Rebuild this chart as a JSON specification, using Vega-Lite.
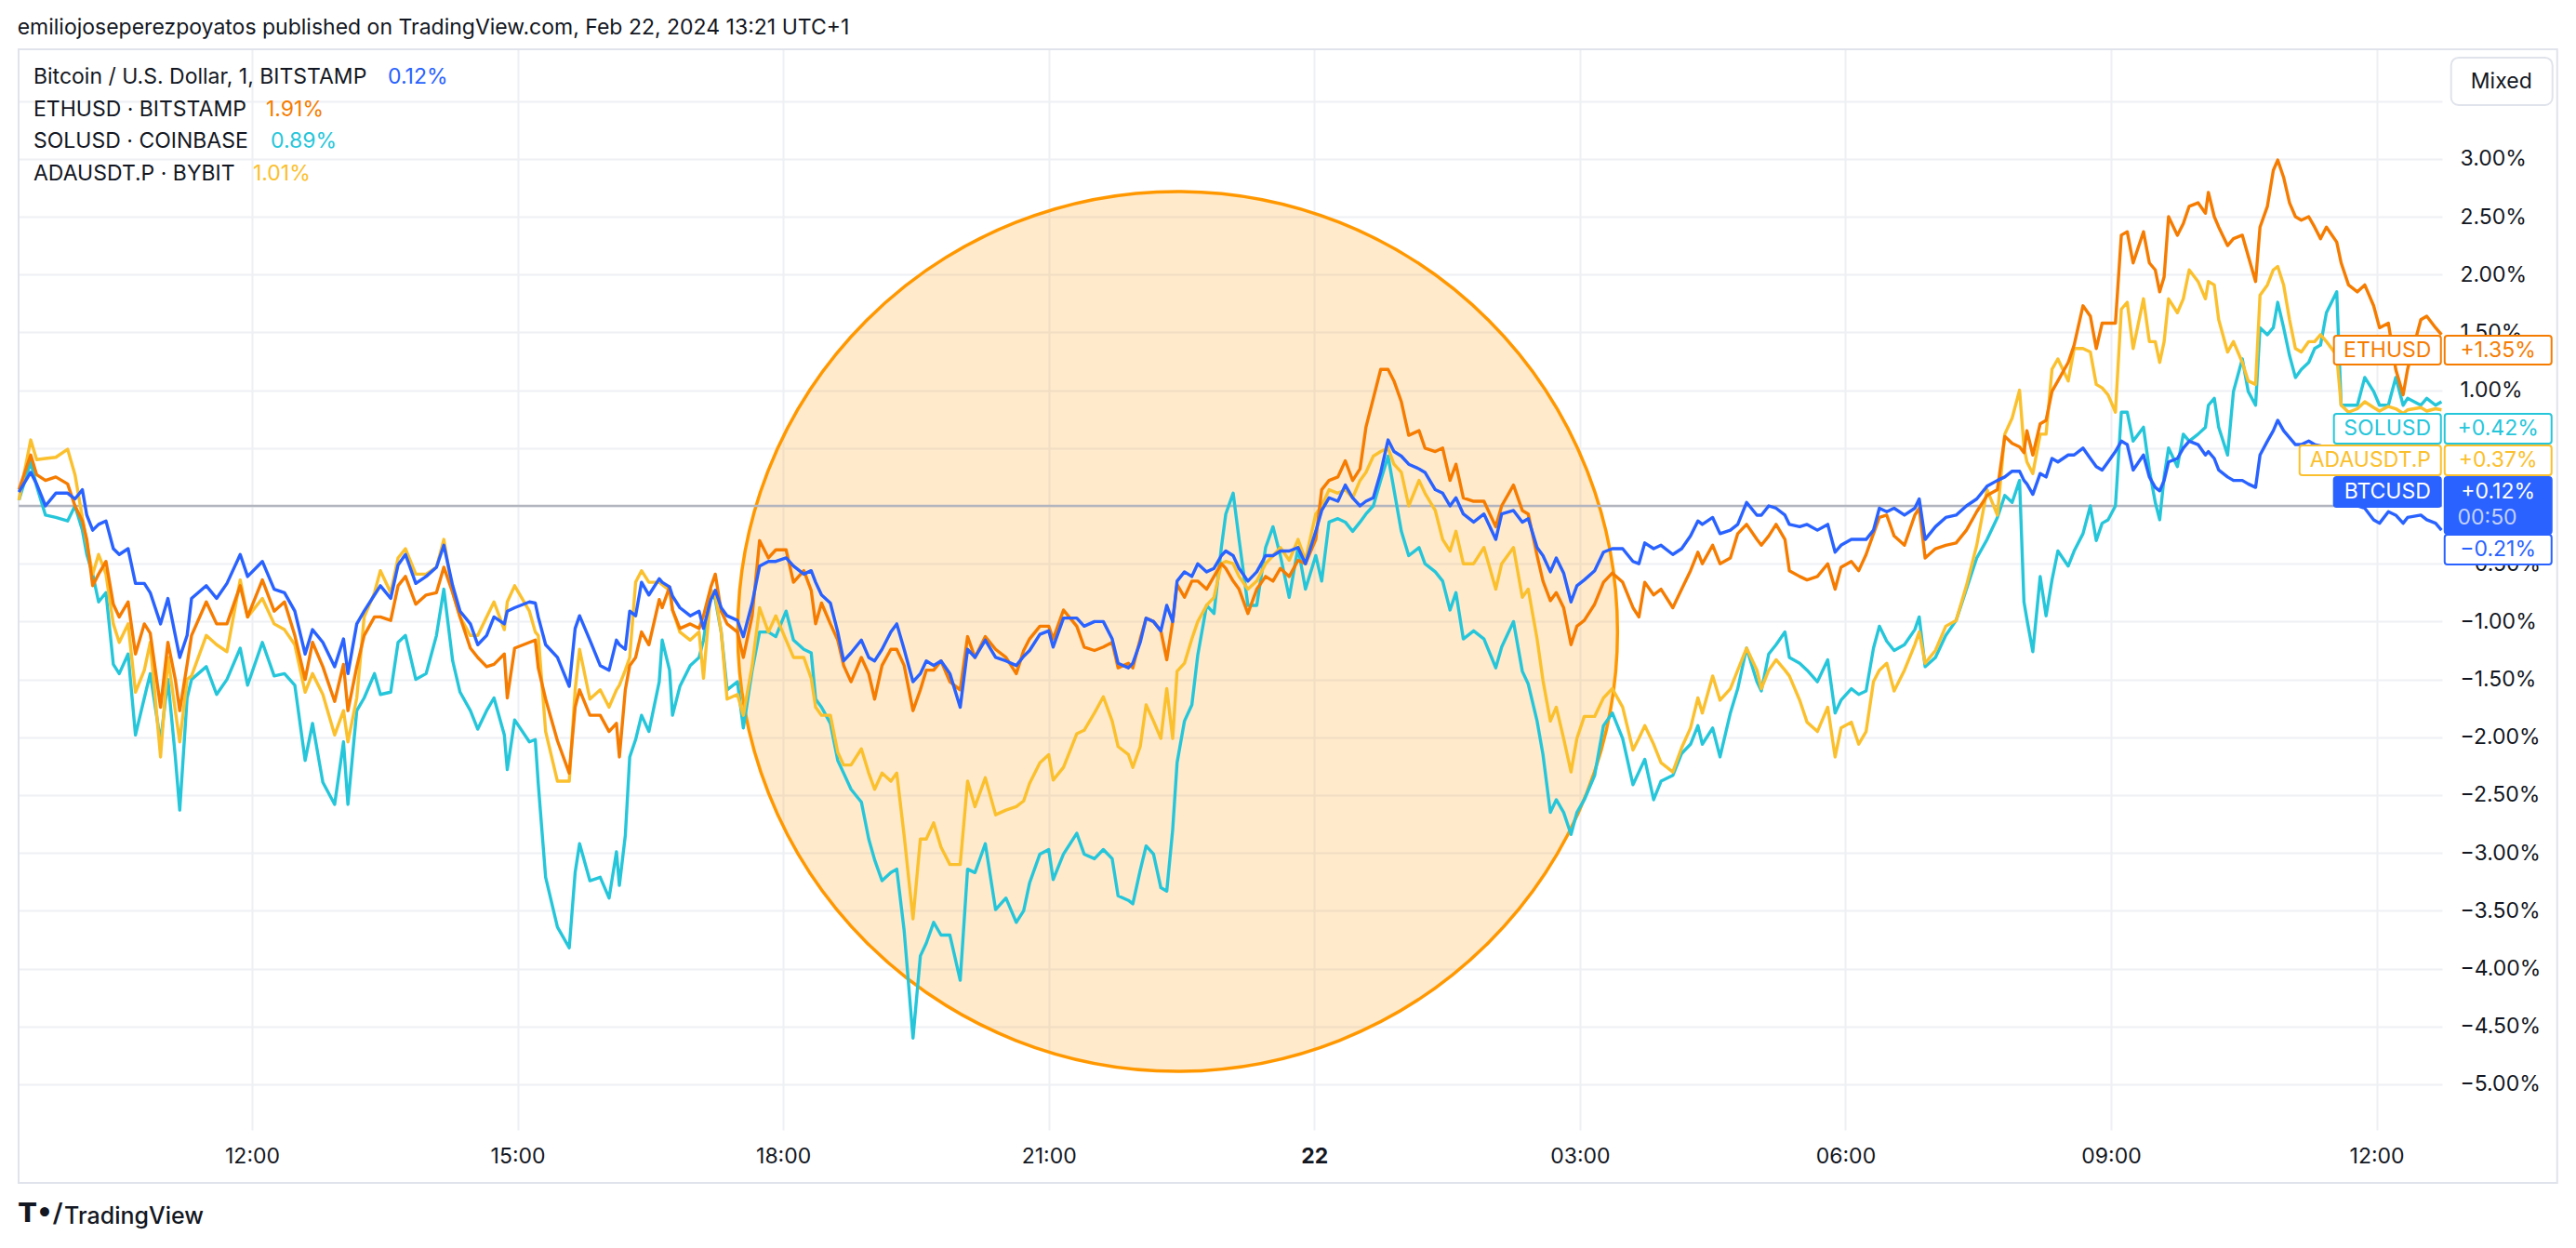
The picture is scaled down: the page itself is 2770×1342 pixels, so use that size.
{
"$schema":"https://vega.github.io/schema/vega-lite/v6.json",
"width":2606,"height":1162,
"autosize":{"type":"none"},
"padding":{"left":20,"top":53,"right":144,"bottom":127},
"background":"white",
"title":{"text":"emiliojoseperezpoyatos published on TradingView.com, Feb 22, 2024 13:21 UTC+1","anchor":"start","font":"Inter","fontSize":23,"fontWeight":"normal","color":"#131722","offset":10},
"config":{"view":{"stroke":null},"font":"Inter","axis":{"domain":false,"ticks":false,"gridColor":"#EEF0F4","gridWidth":2,"labelFont":"Inter","labelFontSize":23,"labelColor":"#131722"}},
"datasets":{
"btc":[{"t":"2024-02-21T09:22Z","v":0.12},{"t":"2024-02-21T09:30Z","v":0.29},{"t":"2024-02-21T09:34Z","v":0.19},{"t":"2024-02-21T09:40Z","v":0.0},{"t":"2024-02-21T09:47Z","v":0.11},{"t":"2024-02-21T09:55Z","v":0.11},{"t":"2024-02-21T10:00Z","v":0.06},{"t":"2024-02-21T10:05Z","v":0.14},{"t":"2024-02-21T10:08Z","v":-0.08},{"t":"2024-02-21T10:12Z","v":-0.21},{"t":"2024-02-21T10:16Z","v":-0.16},{"t":"2024-02-21T10:21Z","v":-0.13},{"t":"2024-02-21T10:26Z","v":-0.37},{"t":"2024-02-21T10:30Z","v":-0.42},{"t":"2024-02-21T10:36Z","v":-0.37},{"t":"2024-02-21T10:41Z","v":-0.67},{"t":"2024-02-21T10:47Z","v":-0.67},{"t":"2024-02-21T10:51Z","v":-0.75},{"t":"2024-02-21T10:58Z","v":-1.02},{"t":"2024-02-21T11:03Z","v":-0.8},{"t":"2024-02-21T11:08Z","v":-1.12},{"t":"2024-02-21T11:11Z","v":-1.31},{"t":"2024-02-21T11:16Z","v":-1.12},{"t":"2024-02-21T11:19Z","v":-0.8},{"t":"2024-02-21T11:29Z","v":-0.69},{"t":"2024-02-21T11:36Z","v":-0.8},{"t":"2024-02-21T11:43Z","v":-0.67},{"t":"2024-02-21T11:52Z","v":-0.42},{"t":"2024-02-21T11:57Z","v":-0.61},{"t":"2024-02-21T12:07Z","v":-0.48},{"t":"2024-02-21T12:15Z","v":-0.72},{"t":"2024-02-21T12:22Z","v":-0.75},{"t":"2024-02-21T12:29Z","v":-0.91},{"t":"2024-02-21T12:36Z","v":-1.28},{"t":"2024-02-21T12:41Z","v":-1.07},{"t":"2024-02-21T12:48Z","v":-1.18},{"t":"2024-02-21T12:56Z","v":-1.39},{"t":"2024-02-21T13:02Z","v":-1.15},{"t":"2024-02-21T13:05Z","v":-1.45},{"t":"2024-02-21T13:11Z","v":-1.02},{"t":"2024-02-21T13:16Z","v":-0.91},{"t":"2024-02-21T13:23Z","v":-0.77},{"t":"2024-02-21T13:27Z","v":-0.69},{"t":"2024-02-21T13:34Z","v":-0.8},{"t":"2024-02-21T13:39Z","v":-0.51},{"t":"2024-02-21T13:44Z","v":-0.42},{"t":"2024-02-21T13:51Z","v":-0.67},{"t":"2024-02-21T13:58Z","v":-0.61},{"t":"2024-02-21T14:05Z","v":-0.53},{"t":"2024-02-21T14:10Z","v":-0.34},{"t":"2024-02-21T14:16Z","v":-0.69},{"t":"2024-02-21T14:21Z","v":-0.91},{"t":"2024-02-21T14:28Z","v":-1.02},{"t":"2024-02-21T14:33Z","v":-1.2},{"t":"2024-02-21T14:39Z","v":-1.12},{"t":"2024-02-21T14:44Z","v":-0.96},{"t":"2024-02-21T14:51Z","v":-1.02},{"t":"2024-02-21T14:53Z","v":-0.91},{"t":"2024-02-21T14:58Z","v":-0.88},{"t":"2024-02-21T15:08Z","v":-0.83},{"t":"2024-02-21T15:12Z","v":-0.84},{"t":"2024-02-21T15:14Z","v":-0.96},{"t":"2024-02-21T15:19Z","v":-1.2},{"t":"2024-02-21T15:27Z","v":-1.31},{"t":"2024-02-21T15:35Z","v":-1.56},{"t":"2024-02-21T15:39Z","v":-1.06},{"t":"2024-02-21T15:42Z","v":-0.95},{"t":"2024-02-21T15:49Z","v":-1.16},{"t":"2024-02-21T15:56Z","v":-1.38},{"t":"2024-02-21T16:02Z","v":-1.42},{"t":"2024-02-21T16:07Z","v":-1.16},{"t":"2024-02-21T16:09Z","v":-1.2},{"t":"2024-02-21T16:13Z","v":-1.24},{"t":"2024-02-21T16:16Z","v":-0.91},{"t":"2024-02-21T16:20Z","v":-0.95},{"t":"2024-02-21T16:24Z","v":-0.66},{"t":"2024-02-21T16:29Z","v":-0.77},{"t":"2024-02-21T16:36Z","v":-0.63},{"t":"2024-02-21T16:38Z","v":-0.66},{"t":"2024-02-21T16:43Z","v":-0.7},{"t":"2024-02-21T16:45Z","v":-0.78},{"t":"2024-02-21T16:50Z","v":-0.88},{"t":"2024-02-21T16:57Z","v":-0.95},{"t":"2024-02-21T17:03Z","v":-0.91},{"t":"2024-02-21T17:06Z","v":-1.06},{"t":"2024-02-21T17:11Z","v":-0.81},{"t":"2024-02-21T17:14Z","v":-0.73},{"t":"2024-02-21T17:18Z","v":-0.88},{"t":"2024-02-21T17:22Z","v":-0.95},{"t":"2024-02-21T17:29Z","v":-0.99},{"t":"2024-02-21T17:33Z","v":-1.13},{"t":"2024-02-21T17:39Z","v":-0.84},{"t":"2024-02-21T17:44Z","v":-0.52},{"t":"2024-02-21T17:50Z","v":-0.48},{"t":"2024-02-21T17:55Z","v":-0.48},{"t":"2024-02-21T18:02Z","v":-0.45},{"t":"2024-02-21T18:07Z","v":-0.52},{"t":"2024-02-21T18:14Z","v":-0.59},{"t":"2024-02-21T18:19Z","v":-0.56},{"t":"2024-02-21T18:22Z","v":-0.66},{"t":"2024-02-21T18:26Z","v":-0.77},{"t":"2024-02-21T18:32Z","v":-0.84},{"t":"2024-02-21T18:37Z","v":-1.09},{"t":"2024-02-21T18:41Z","v":-1.34},{"t":"2024-02-21T18:46Z","v":-1.27},{"t":"2024-02-21T18:53Z","v":-1.16},{"t":"2024-02-21T18:58Z","v":-1.31},{"t":"2024-02-21T19:02Z","v":-1.34},{"t":"2024-02-21T19:07Z","v":-1.24},{"t":"2024-02-21T19:13Z","v":-1.09},{"t":"2024-02-21T19:17Z","v":-1.02},{"t":"2024-02-21T19:22Z","v":-1.24},{"t":"2024-02-21T19:28Z","v":-1.52},{"t":"2024-02-21T19:33Z","v":-1.45},{"t":"2024-02-21T19:37Z","v":-1.34},{"t":"2024-02-21T19:42Z","v":-1.38},{"t":"2024-02-21T19:47Z","v":-1.34},{"t":"2024-02-21T19:53Z","v":-1.45},{"t":"2024-02-21T20:00Z","v":-1.74},{"t":"2024-02-21T20:05Z","v":-1.24},{"t":"2024-02-21T20:10Z","v":-1.31},{"t":"2024-02-21T20:17Z","v":-1.16},{"t":"2024-02-21T20:24Z","v":-1.31},{"t":"2024-02-21T20:31Z","v":-1.34},{"t":"2024-02-21T20:38Z","v":-1.38},{"t":"2024-02-21T20:43Z","v":-1.3},{"t":"2024-02-21T20:47Z","v":-1.25},{"t":"2024-02-21T20:54Z","v":-1.11},{"t":"2024-02-21T21:00Z","v":-1.08},{"t":"2024-02-21T21:03Z","v":-1.22},{"t":"2024-02-21T21:10Z","v":-0.97},{"t":"2024-02-21T21:19Z","v":-0.97},{"t":"2024-02-21T21:24Z","v":-1.04},{"t":"2024-02-21T21:31Z","v":-1.0},{"t":"2024-02-21T21:37Z","v":-1.0},{"t":"2024-02-21T21:43Z","v":-1.15},{"t":"2024-02-21T21:47Z","v":-1.36},{"t":"2024-02-21T21:54Z","v":-1.4},{"t":"2024-02-21T21:57Z","v":-1.36},{"t":"2024-02-21T22:02Z","v":-1.18},{"t":"2024-02-21T22:06Z","v":-0.97},{"t":"2024-02-21T22:11Z","v":-1.0},{"t":"2024-02-21T22:16Z","v":-1.08},{"t":"2024-02-21T22:20Z","v":-0.86},{"t":"2024-02-21T22:24Z","v":-1.0},{"t":"2024-02-21T22:27Z","v":-0.65},{"t":"2024-02-21T22:32Z","v":-0.57},{"t":"2024-02-21T22:37Z","v":-0.61},{"t":"2024-02-21T22:41Z","v":-0.5},{"t":"2024-02-21T22:47Z","v":-0.57},{"t":"2024-02-21T22:52Z","v":-0.54},{"t":"2024-02-21T22:57Z","v":-0.43},{"t":"2024-02-21T23:00Z","v":-0.39},{"t":"2024-02-21T23:05Z","v":-0.43},{"t":"2024-02-21T23:09Z","v":-0.54},{"t":"2024-02-21T23:15Z","v":-0.65},{"t":"2024-02-21T23:21Z","v":-0.57},{"t":"2024-02-21T23:27Z","v":-0.43},{"t":"2024-02-21T23:32Z","v":-0.43},{"t":"2024-02-21T23:37Z","v":-0.39},{"t":"2024-02-21T23:43Z","v":-0.39},{"t":"2024-02-21T23:49Z","v":-0.36},{"t":"2024-02-21T23:54Z","v":-0.5},{"t":"2024-02-22T00:01Z","v":-0.22},{"t":"2024-02-22T00:05Z","v":-0.04},{"t":"2024-02-22T00:10Z","v":0.07},{"t":"2024-02-22T00:16Z","v":0.04},{"t":"2024-02-22T00:21Z","v":0.18},{"t":"2024-02-22T00:26Z","v":0.07},{"t":"2024-02-22T00:31Z","v":0.0},{"t":"2024-02-22T00:35Z","v":0.04},{"t":"2024-02-22T00:40Z","v":0.07},{"t":"2024-02-22T00:45Z","v":0.29},{"t":"2024-02-22T00:50Z","v":0.57},{"t":"2024-02-22T00:54Z","v":0.47},{"t":"2024-02-22T00:59Z","v":0.43},{"t":"2024-02-22T01:04Z","v":0.36},{"t":"2024-02-22T01:11Z","v":0.32},{"t":"2024-02-22T01:15Z","v":0.29},{"t":"2024-02-22T01:22Z","v":0.14},{"t":"2024-02-22T01:27Z","v":0.11},{"t":"2024-02-22T01:32Z","v":0.0},{"t":"2024-02-22T01:36Z","v":0.07},{"t":"2024-02-22T01:41Z","v":-0.07},{"t":"2024-02-22T01:48Z","v":-0.14},{"t":"2024-02-22T01:55Z","v":-0.07},{"t":"2024-02-22T02:03Z","v":-0.29},{"t":"2024-02-22T02:07Z","v":-0.07},{"t":"2024-02-22T02:15Z","v":-0.04},{"t":"2024-02-22T02:21Z","v":-0.14},{"t":"2024-02-22T02:25Z","v":-0.11},{"t":"2024-02-22T02:31Z","v":-0.36},{"t":"2024-02-22T02:35Z","v":-0.43},{"t":"2024-02-22T02:40Z","v":-0.57},{"t":"2024-02-22T02:44Z","v":-0.45},{"t":"2024-02-22T02:49Z","v":-0.58},{"t":"2024-02-22T02:54Z","v":-0.83},{"t":"2024-02-22T02:58Z","v":-0.69},{"t":"2024-02-22T03:03Z","v":-0.64},{"t":"2024-02-22T03:10Z","v":-0.56},{"t":"2024-02-22T03:16Z","v":-0.4},{"t":"2024-02-22T03:22Z","v":-0.37},{"t":"2024-02-22T03:29Z","v":-0.37},{"t":"2024-02-22T03:36Z","v":-0.48},{"t":"2024-02-22T03:40Z","v":-0.5},{"t":"2024-02-22T03:44Z","v":-0.32},{"t":"2024-02-22T03:50Z","v":-0.37},{"t":"2024-02-22T03:55Z","v":-0.34},{"t":"2024-02-22T04:03Z","v":-0.42},{"t":"2024-02-22T04:09Z","v":-0.37},{"t":"2024-02-22T04:15Z","v":-0.26},{"t":"2024-02-22T04:20Z","v":-0.13},{"t":"2024-02-22T04:23Z","v":-0.16},{"t":"2024-02-22T04:30Z","v":-0.1},{"t":"2024-02-22T04:35Z","v":-0.24},{"t":"2024-02-22T04:42Z","v":-0.21},{"t":"2024-02-22T04:47Z","v":-0.16},{"t":"2024-02-22T04:53Z","v":0.03},{"t":"2024-02-22T05:00Z","v":-0.08},{"t":"2024-02-22T05:03Z","v":-0.08},{"t":"2024-02-22T05:08Z","v":0.0},{"t":"2024-02-22T05:13Z","v":-0.02},{"t":"2024-02-22T05:19Z","v":-0.08},{"t":"2024-02-22T05:22Z","v":-0.16},{"t":"2024-02-22T05:29Z","v":-0.18},{"t":"2024-02-22T05:34Z","v":-0.16},{"t":"2024-02-22T05:41Z","v":-0.21},{"t":"2024-02-22T05:48Z","v":-0.16},{"t":"2024-02-22T05:53Z","v":-0.4},{"t":"2024-02-22T05:57Z","v":-0.34},{"t":"2024-02-22T06:04Z","v":-0.29},{"t":"2024-02-22T06:09Z","v":-0.29},{"t":"2024-02-22T06:14Z","v":-0.29},{"t":"2024-02-22T06:19Z","v":-0.21},{"t":"2024-02-22T06:23Z","v":-0.02},{"t":"2024-02-22T06:28Z","v":-0.05},{"t":"2024-02-22T06:33Z","v":-0.02},{"t":"2024-02-22T06:40Z","v":-0.08},{"t":"2024-02-22T06:47Z","v":-0.02},{"t":"2024-02-22T06:50Z","v":0.06},{"t":"2024-02-22T06:54Z","v":-0.29},{"t":"2024-02-22T07:01Z","v":-0.18},{"t":"2024-02-22T07:08Z","v":-0.1},{"t":"2024-02-22T07:15Z","v":-0.08},{"t":"2024-02-22T07:22Z","v":0.0},{"t":"2024-02-22T07:29Z","v":0.06},{"t":"2024-02-22T07:36Z","v":0.17},{"t":"2024-02-22T07:43Z","v":0.22},{"t":"2024-02-22T07:48Z","v":0.25},{"t":"2024-02-22T07:53Z","v":0.3},{"t":"2024-02-22T07:58Z","v":0.3},{"t":"2024-02-22T08:01Z","v":0.22},{"t":"2024-02-22T08:03Z","v":0.19},{"t":"2024-02-22T08:07Z","v":0.1},{"t":"2024-02-22T08:12Z","v":0.28},{"t":"2024-02-22T08:16Z","v":0.25},{"t":"2024-02-22T08:20Z","v":0.41},{"t":"2024-02-22T08:24Z","v":0.38},{"t":"2024-02-22T08:31Z","v":0.44},{"t":"2024-02-22T08:35Z","v":0.44},{"t":"2024-02-22T08:41Z","v":0.5},{"t":"2024-02-22T08:46Z","v":0.41},{"t":"2024-02-22T08:50Z","v":0.34},{"t":"2024-02-22T08:54Z","v":0.31},{"t":"2024-02-22T08:58Z","v":0.38},{"t":"2024-02-22T09:03Z","v":0.47},{"t":"2024-02-22T09:07Z","v":0.56},{"t":"2024-02-22T09:11Z","v":0.53},{"t":"2024-02-22T09:15Z","v":0.31},{"t":"2024-02-22T09:22Z","v":0.44},{"t":"2024-02-22T09:26Z","v":0.25},{"t":"2024-02-22T09:30Z","v":0.16},{"t":"2024-02-22T09:33Z","v":0.13},{"t":"2024-02-22T09:36Z","v":0.22},{"t":"2024-02-22T09:39Z","v":0.38},{"t":"2024-02-22T09:45Z","v":0.41},{"t":"2024-02-22T09:49Z","v":0.5},{"t":"2024-02-22T09:53Z","v":0.56},{"t":"2024-02-22T09:59Z","v":0.53},{"t":"2024-02-22T10:04Z","v":0.44},{"t":"2024-02-22T10:06Z","v":0.47},{"t":"2024-02-22T10:10Z","v":0.41},{"t":"2024-02-22T10:13Z","v":0.31},{"t":"2024-02-22T10:19Z","v":0.25},{"t":"2024-02-22T10:23Z","v":0.22},{"t":"2024-02-22T10:29Z","v":0.22},{"t":"2024-02-22T10:33Z","v":0.19},{"t":"2024-02-22T10:38Z","v":0.16},{"t":"2024-02-22T10:41Z","v":0.44},{"t":"2024-02-22T10:46Z","v":0.56},{"t":"2024-02-22T10:50Z","v":0.65},{"t":"2024-02-22T10:53Z","v":0.74},{"t":"2024-02-22T10:57Z","v":0.65},{"t":"2024-02-22T11:01Z","v":0.59},{"t":"2024-02-22T11:05Z","v":0.53},{"t":"2024-02-22T11:09Z","v":0.53},{"t":"2024-02-22T11:14Z","v":0.56},{"t":"2024-02-22T11:18Z","v":0.53},{"t":"2024-02-22T11:22Z","v":0.52},{"t":"2024-02-22T11:26Z","v":0.5},{"t":"2024-02-22T11:33Z","v":0.45},{"t":"2024-02-22T11:36Z","v":0.35},{"t":"2024-02-22T11:41Z","v":0.15},{"t":"2024-02-22T11:47Z","v":0.0},{"t":"2024-02-22T11:52Z","v":-0.02},{"t":"2024-02-22T11:58Z","v":-0.12},{"t":"2024-02-22T12:02Z","v":-0.15},{"t":"2024-02-22T12:08Z","v":-0.05},{"t":"2024-02-22T12:13Z","v":-0.08},{"t":"2024-02-22T12:18Z","v":-0.15},{"t":"2024-02-22T12:21Z","v":-0.1},{"t":"2024-02-22T12:30Z","v":-0.08},{"t":"2024-02-22T12:34Z","v":-0.12},{"t":"2024-02-22T12:40Z","v":-0.15},{"t":"2024-02-22T12:44Z","v":-0.21}],
"eth":[{"t":"2024-02-21T09:22Z","v":0.14},{"t":"2024-02-21T09:30Z","v":0.44},{"t":"2024-02-21T09:34Z","v":0.27},{"t":"2024-02-21T09:40Z","v":0.22},{"t":"2024-02-21T09:47Z","v":0.25},{"t":"2024-02-21T09:55Z","v":0.19},{"t":"2024-02-21T10:00Z","v":0.0},{"t":"2024-02-21T10:05Z","v":-0.13},{"t":"2024-02-21T10:08Z","v":-0.29},{"t":"2024-02-21T10:12Z","v":-0.69},{"t":"2024-02-21T10:16Z","v":-0.59},{"t":"2024-02-21T10:21Z","v":-0.48},{"t":"2024-02-21T10:26Z","v":-0.85},{"t":"2024-02-21T10:30Z","v":-0.96},{"t":"2024-02-21T10:36Z","v":-0.83},{"t":"2024-02-21T10:41Z","v":-1.28},{"t":"2024-02-21T10:47Z","v":-1.02},{"t":"2024-02-21T10:51Z","v":-1.1},{"t":"2024-02-21T10:58Z","v":-1.74},{"t":"2024-02-21T11:03Z","v":-1.18},{"t":"2024-02-21T11:08Z","v":-1.5},{"t":"2024-02-21T11:11Z","v":-1.77},{"t":"2024-02-21T11:16Z","v":-1.37},{"t":"2024-02-21T11:19Z","v":-1.12},{"t":"2024-02-21T11:29Z","v":-0.83},{"t":"2024-02-21T11:36Z","v":-1.02},{"t":"2024-02-21T11:43Z","v":-1.02},{"t":"2024-02-21T11:52Z","v":-0.69},{"t":"2024-02-21T11:57Z","v":-0.96},{"t":"2024-02-21T12:07Z","v":-0.64},{"t":"2024-02-21T12:15Z","v":-0.91},{"t":"2024-02-21T12:22Z","v":-0.83},{"t":"2024-02-21T12:29Z","v":-1.12},{"t":"2024-02-21T12:36Z","v":-1.5},{"t":"2024-02-21T12:41Z","v":-1.18},{"t":"2024-02-21T12:48Z","v":-1.39},{"t":"2024-02-21T12:56Z","v":-1.69},{"t":"2024-02-21T13:02Z","v":-1.37},{"t":"2024-02-21T13:05Z","v":-1.77},{"t":"2024-02-21T13:11Z","v":-1.39},{"t":"2024-02-21T13:16Z","v":-1.12},{"t":"2024-02-21T13:23Z","v":-0.96},{"t":"2024-02-21T13:27Z","v":-0.96},{"t":"2024-02-21T13:34Z","v":-0.99},{"t":"2024-02-21T13:39Z","v":-0.69},{"t":"2024-02-21T13:44Z","v":-0.61},{"t":"2024-02-21T13:51Z","v":-0.85},{"t":"2024-02-21T13:58Z","v":-0.77},{"t":"2024-02-21T14:05Z","v":-0.75},{"t":"2024-02-21T14:10Z","v":-0.53},{"t":"2024-02-21T14:16Z","v":-0.75},{"t":"2024-02-21T14:21Z","v":-0.96},{"t":"2024-02-21T14:28Z","v":-1.23},{"t":"2024-02-21T14:33Z","v":-1.31},{"t":"2024-02-21T14:39Z","v":-1.39},{"t":"2024-02-21T14:44Z","v":-1.37},{"t":"2024-02-21T14:51Z","v":-1.28},{"t":"2024-02-21T14:53Z","v":-1.66},{"t":"2024-02-21T14:58Z","v":-1.23},{"t":"2024-02-21T15:08Z","v":-1.18},{"t":"2024-02-21T15:12Z","v":-1.16},{"t":"2024-02-21T15:14Z","v":-1.4},{"t":"2024-02-21T15:19Z","v":-1.67},{"t":"2024-02-21T15:27Z","v":-2.03},{"t":"2024-02-21T15:35Z","v":-2.31},{"t":"2024-02-21T15:39Z","v":-1.74},{"t":"2024-02-21T15:42Z","v":-1.59},{"t":"2024-02-21T15:49Z","v":-1.81},{"t":"2024-02-21T15:56Z","v":-1.81},{"t":"2024-02-21T16:02Z","v":-1.95},{"t":"2024-02-21T16:07Z","v":-1.88},{"t":"2024-02-21T16:09Z","v":-2.17},{"t":"2024-02-21T16:13Z","v":-1.59},{"t":"2024-02-21T16:16Z","v":-1.38},{"t":"2024-02-21T16:20Z","v":-1.31},{"t":"2024-02-21T16:24Z","v":-1.09},{"t":"2024-02-21T16:29Z","v":-1.2},{"t":"2024-02-21T16:36Z","v":-0.81},{"t":"2024-02-21T16:38Z","v":-0.88},{"t":"2024-02-21T16:43Z","v":-0.7},{"t":"2024-02-21T16:45Z","v":-0.9},{"t":"2024-02-21T16:50Z","v":-1.06},{"t":"2024-02-21T16:57Z","v":-1.02},{"t":"2024-02-21T17:03Z","v":-1.06},{"t":"2024-02-21T17:06Z","v":-0.95},{"t":"2024-02-21T17:11Z","v":-0.7},{"t":"2024-02-21T17:14Z","v":-0.59},{"t":"2024-02-21T17:18Z","v":-0.91},{"t":"2024-02-21T17:22Z","v":-1.02},{"t":"2024-02-21T17:29Z","v":-1.09},{"t":"2024-02-21T17:33Z","v":-1.31},{"t":"2024-02-21T17:39Z","v":-0.95},{"t":"2024-02-21T17:44Z","v":-0.3},{"t":"2024-02-21T17:50Z","v":-0.45},{"t":"2024-02-21T17:55Z","v":-0.38},{"t":"2024-02-21T18:02Z","v":-0.38},{"t":"2024-02-21T18:07Z","v":-0.66},{"t":"2024-02-21T18:14Z","v":-0.56},{"t":"2024-02-21T18:19Z","v":-0.73},{"t":"2024-02-21T18:22Z","v":-1.02},{"t":"2024-02-21T18:26Z","v":-0.84},{"t":"2024-02-21T18:32Z","v":-1.02},{"t":"2024-02-21T18:37Z","v":-1.16},{"t":"2024-02-21T18:41Z","v":-1.38},{"t":"2024-02-21T18:46Z","v":-1.52},{"t":"2024-02-21T18:53Z","v":-1.31},{"t":"2024-02-21T18:58Z","v":-1.45},{"t":"2024-02-21T19:02Z","v":-1.67},{"t":"2024-02-21T19:07Z","v":-1.38},{"t":"2024-02-21T19:13Z","v":-1.24},{"t":"2024-02-21T19:17Z","v":-1.24},{"t":"2024-02-21T19:22Z","v":-1.38},{"t":"2024-02-21T19:28Z","v":-1.77},{"t":"2024-02-21T19:33Z","v":-1.59},{"t":"2024-02-21T19:37Z","v":-1.42},{"t":"2024-02-21T19:42Z","v":-1.42},{"t":"2024-02-21T19:47Z","v":-1.34},{"t":"2024-02-21T19:53Z","v":-1.52},{"t":"2024-02-21T20:00Z","v":-1.59},{"t":"2024-02-21T20:05Z","v":-1.13},{"t":"2024-02-21T20:10Z","v":-1.31},{"t":"2024-02-21T20:17Z","v":-1.13},{"t":"2024-02-21T20:24Z","v":-1.24},{"t":"2024-02-21T20:31Z","v":-1.31},{"t":"2024-02-21T20:38Z","v":-1.45},{"t":"2024-02-21T20:43Z","v":-1.25},{"t":"2024-02-21T20:47Z","v":-1.15},{"t":"2024-02-21T20:54Z","v":-1.04},{"t":"2024-02-21T21:00Z","v":-1.04},{"t":"2024-02-21T21:03Z","v":-1.15},{"t":"2024-02-21T21:10Z","v":-0.9},{"t":"2024-02-21T21:19Z","v":-1.04},{"t":"2024-02-21T21:24Z","v":-1.22},{"t":"2024-02-21T21:31Z","v":-1.25},{"t":"2024-02-21T21:37Z","v":-1.22},{"t":"2024-02-21T21:43Z","v":-1.18},{"t":"2024-02-21T21:47Z","v":-1.4},{"t":"2024-02-21T21:54Z","v":-1.36},{"t":"2024-02-21T21:57Z","v":-1.4},{"t":"2024-02-21T22:02Z","v":-1.15},{"t":"2024-02-21T22:06Z","v":-0.97},{"t":"2024-02-21T22:11Z","v":-1.0},{"t":"2024-02-21T22:16Z","v":-1.08},{"t":"2024-02-21T22:20Z","v":-1.33},{"t":"2024-02-21T22:24Z","v":-1.0},{"t":"2024-02-21T22:27Z","v":-0.68},{"t":"2024-02-21T22:32Z","v":-0.79},{"t":"2024-02-21T22:37Z","v":-0.65},{"t":"2024-02-21T22:41Z","v":-0.65},{"t":"2024-02-21T22:47Z","v":-0.72},{"t":"2024-02-21T22:52Z","v":-0.61},{"t":"2024-02-21T22:57Z","v":-0.5},{"t":"2024-02-21T23:00Z","v":-0.54},{"t":"2024-02-21T23:05Z","v":-0.65},{"t":"2024-02-21T23:09Z","v":-0.72},{"t":"2024-02-21T23:15Z","v":-0.93},{"t":"2024-02-21T23:21Z","v":-0.72},{"t":"2024-02-21T23:27Z","v":-0.61},{"t":"2024-02-21T23:32Z","v":-0.65},{"t":"2024-02-21T23:37Z","v":-0.54},{"t":"2024-02-21T23:43Z","v":-0.61},{"t":"2024-02-21T23:49Z","v":-0.47},{"t":"2024-02-21T23:54Z","v":-0.5},{"t":"2024-02-22T00:01Z","v":-0.29},{"t":"2024-02-22T00:05Z","v":0.14},{"t":"2024-02-22T00:10Z","v":0.22},{"t":"2024-02-22T00:16Z","v":0.25},{"t":"2024-02-22T00:21Z","v":0.39},{"t":"2024-02-22T00:26Z","v":0.22},{"t":"2024-02-22T00:31Z","v":0.32},{"t":"2024-02-22T00:35Z","v":0.68},{"t":"2024-02-22T00:40Z","v":0.93},{"t":"2024-02-22T00:45Z","v":1.18},{"t":"2024-02-22T00:50Z","v":1.18},{"t":"2024-02-22T00:54Z","v":1.08},{"t":"2024-02-22T00:59Z","v":0.9},{"t":"2024-02-22T01:04Z","v":0.61},{"t":"2024-02-22T01:11Z","v":0.65},{"t":"2024-02-22T01:15Z","v":0.5},{"t":"2024-02-22T01:22Z","v":0.47},{"t":"2024-02-22T01:27Z","v":0.5},{"t":"2024-02-22T01:32Z","v":0.22},{"t":"2024-02-22T01:36Z","v":0.36},{"t":"2024-02-22T01:41Z","v":0.07},{"t":"2024-02-22T01:48Z","v":0.04},{"t":"2024-02-22T01:55Z","v":0.04},{"t":"2024-02-22T02:03Z","v":-0.18},{"t":"2024-02-22T02:07Z","v":0.0},{"t":"2024-02-22T02:15Z","v":0.18},{"t":"2024-02-22T02:21Z","v":-0.04},{"t":"2024-02-22T02:25Z","v":-0.07},{"t":"2024-02-22T02:31Z","v":-0.43},{"t":"2024-02-22T02:35Z","v":-0.65},{"t":"2024-02-22T02:40Z","v":-0.82},{"t":"2024-02-22T02:44Z","v":-0.75},{"t":"2024-02-22T02:49Z","v":-0.88},{"t":"2024-02-22T02:54Z","v":-1.2},{"t":"2024-02-22T02:58Z","v":-1.04},{"t":"2024-02-22T03:03Z","v":-0.99},{"t":"2024-02-22T03:10Z","v":-0.85},{"t":"2024-02-22T03:16Z","v":-0.66},{"t":"2024-02-22T03:22Z","v":-0.58},{"t":"2024-02-22T03:29Z","v":-0.66},{"t":"2024-02-22T03:36Z","v":-0.88},{"t":"2024-02-22T03:40Z","v":-0.96},{"t":"2024-02-22T03:44Z","v":-0.66},{"t":"2024-02-22T03:50Z","v":-0.77},{"t":"2024-02-22T03:55Z","v":-0.72},{"t":"2024-02-22T04:03Z","v":-0.88},{"t":"2024-02-22T04:09Z","v":-0.72},{"t":"2024-02-22T04:15Z","v":-0.56},{"t":"2024-02-22T04:20Z","v":-0.4},{"t":"2024-02-22T04:23Z","v":-0.5},{"t":"2024-02-22T04:30Z","v":-0.34},{"t":"2024-02-22T04:35Z","v":-0.5},{"t":"2024-02-22T04:42Z","v":-0.45},{"t":"2024-02-22T04:47Z","v":-0.24},{"t":"2024-02-22T04:53Z","v":-0.16},{"t":"2024-02-22T05:00Z","v":-0.29},{"t":"2024-02-22T05:03Z","v":-0.34},{"t":"2024-02-22T05:08Z","v":-0.26},{"t":"2024-02-22T05:13Z","v":-0.16},{"t":"2024-02-22T05:19Z","v":-0.29},{"t":"2024-02-22T05:22Z","v":-0.56},{"t":"2024-02-22T05:29Z","v":-0.61},{"t":"2024-02-22T05:34Z","v":-0.64},{"t":"2024-02-22T05:41Z","v":-0.61},{"t":"2024-02-22T05:48Z","v":-0.5},{"t":"2024-02-22T05:53Z","v":-0.72},{"t":"2024-02-22T05:57Z","v":-0.53},{"t":"2024-02-22T06:04Z","v":-0.48},{"t":"2024-02-22T06:09Z","v":-0.56},{"t":"2024-02-22T06:14Z","v":-0.42},{"t":"2024-02-22T06:19Z","v":-0.24},{"t":"2024-02-22T06:23Z","v":-0.1},{"t":"2024-02-22T06:28Z","v":-0.08},{"t":"2024-02-22T06:33Z","v":-0.26},{"t":"2024-02-22T06:40Z","v":-0.34},{"t":"2024-02-22T06:47Z","v":-0.08},{"t":"2024-02-22T06:50Z","v":-0.02},{"t":"2024-02-22T06:54Z","v":-0.45},{"t":"2024-02-22T07:01Z","v":-0.37},{"t":"2024-02-22T07:08Z","v":-0.34},{"t":"2024-02-22T07:15Z","v":-0.32},{"t":"2024-02-22T07:22Z","v":-0.21},{"t":"2024-02-22T07:29Z","v":-0.05},{"t":"2024-02-22T07:36Z","v":0.09},{"t":"2024-02-22T07:43Z","v":0.14},{"t":"2024-02-22T07:48Z","v":0.6},{"t":"2024-02-22T07:53Z","v":0.54},{"t":"2024-02-22T07:58Z","v":0.51},{"t":"2024-02-22T08:01Z","v":0.46},{"t":"2024-02-22T08:03Z","v":0.65},{"t":"2024-02-22T08:07Z","v":0.44},{"t":"2024-02-22T08:12Z","v":0.71},{"t":"2024-02-22T08:16Z","v":0.74},{"t":"2024-02-22T08:20Z","v":0.99},{"t":"2024-02-22T08:24Z","v":1.08},{"t":"2024-02-22T08:31Z","v":1.24},{"t":"2024-02-22T08:35Z","v":1.39},{"t":"2024-02-22T08:41Z","v":1.73},{"t":"2024-02-22T08:46Z","v":1.64},{"t":"2024-02-22T08:50Z","v":1.36},{"t":"2024-02-22T08:54Z","v":1.58},{"t":"2024-02-22T08:58Z","v":1.58},{"t":"2024-02-22T09:03Z","v":1.58},{"t":"2024-02-22T09:07Z","v":2.34},{"t":"2024-02-22T09:11Z","v":2.37},{"t":"2024-02-22T09:15Z","v":2.1},{"t":"2024-02-22T09:22Z","v":2.37},{"t":"2024-02-22T09:26Z","v":2.1},{"t":"2024-02-22T09:30Z","v":2.04},{"t":"2024-02-22T09:33Z","v":1.85},{"t":"2024-02-22T09:36Z","v":1.98},{"t":"2024-02-22T09:39Z","v":2.5},{"t":"2024-02-22T09:45Z","v":2.34},{"t":"2024-02-22T09:49Z","v":2.44},{"t":"2024-02-22T09:53Z","v":2.59},{"t":"2024-02-22T09:59Z","v":2.62},{"t":"2024-02-22T10:04Z","v":2.53},{"t":"2024-02-22T10:06Z","v":2.71},{"t":"2024-02-22T10:10Z","v":2.5},{"t":"2024-02-22T10:13Z","v":2.41},{"t":"2024-02-22T10:19Z","v":2.25},{"t":"2024-02-22T10:23Z","v":2.31},{"t":"2024-02-22T10:29Z","v":2.34},{"t":"2024-02-22T10:33Z","v":2.16},{"t":"2024-02-22T10:38Z","v":1.94},{"t":"2024-02-22T10:41Z","v":2.41},{"t":"2024-02-22T10:46Z","v":2.59},{"t":"2024-02-22T10:50Z","v":2.9},{"t":"2024-02-22T10:53Z","v":2.99},{"t":"2024-02-22T10:57Z","v":2.84},{"t":"2024-02-22T11:01Z","v":2.62},{"t":"2024-02-22T11:05Z","v":2.5},{"t":"2024-02-22T11:09Z","v":2.47},{"t":"2024-02-22T11:14Z","v":2.5},{"t":"2024-02-22T11:18Z","v":2.41},{"t":"2024-02-22T11:22Z","v":2.31},{"t":"2024-02-22T11:26Z","v":2.41},{"t":"2024-02-22T11:33Z","v":2.28},{"t":"2024-02-22T11:36Z","v":2.1},{"t":"2024-02-22T11:41Z","v":1.91},{"t":"2024-02-22T11:47Z","v":1.85},{"t":"2024-02-22T11:52Z","v":1.91},{"t":"2024-02-22T11:58Z","v":1.73},{"t":"2024-02-22T12:02Z","v":1.54},{"t":"2024-02-22T12:08Z","v":1.58},{"t":"2024-02-22T12:13Z","v":1.18},{"t":"2024-02-22T12:18Z","v":0.96},{"t":"2024-02-22T12:21Z","v":1.18},{"t":"2024-02-22T12:30Z","v":1.61},{"t":"2024-02-22T12:34Z","v":1.64},{"t":"2024-02-22T12:40Z","v":1.54},{"t":"2024-02-22T12:44Z","v":1.48}],
"sol":[{"t":"2024-02-21T09:22Z","v":0.05},{"t":"2024-02-21T09:30Z","v":0.38},{"t":"2024-02-21T09:34Z","v":0.17},{"t":"2024-02-21T09:40Z","v":-0.08},{"t":"2024-02-21T09:47Z","v":-0.1},{"t":"2024-02-21T09:55Z","v":-0.13},{"t":"2024-02-21T10:00Z","v":0.0},{"t":"2024-02-21T10:05Z","v":-0.21},{"t":"2024-02-21T10:08Z","v":-0.42},{"t":"2024-02-21T10:12Z","v":-0.59},{"t":"2024-02-21T10:16Z","v":-0.83},{"t":"2024-02-21T10:21Z","v":-0.75},{"t":"2024-02-21T10:26Z","v":-1.37},{"t":"2024-02-21T10:30Z","v":-1.45},{"t":"2024-02-21T10:36Z","v":-1.28},{"t":"2024-02-21T10:41Z","v":-1.98},{"t":"2024-02-21T10:47Z","v":-1.66},{"t":"2024-02-21T10:51Z","v":-1.45},{"t":"2024-02-21T10:58Z","v":-2.04},{"t":"2024-02-21T11:03Z","v":-1.5},{"t":"2024-02-21T11:08Z","v":-2.17},{"t":"2024-02-21T11:11Z","v":-2.63},{"t":"2024-02-21T11:16Z","v":-1.66},{"t":"2024-02-21T11:19Z","v":-1.5},{"t":"2024-02-21T11:29Z","v":-1.39},{"t":"2024-02-21T11:36Z","v":-1.63},{"t":"2024-02-21T11:43Z","v":-1.5},{"t":"2024-02-21T11:52Z","v":-1.23},{"t":"2024-02-21T11:57Z","v":-1.55},{"t":"2024-02-21T12:07Z","v":-1.18},{"t":"2024-02-21T12:15Z","v":-1.47},{"t":"2024-02-21T12:22Z","v":-1.45},{"t":"2024-02-21T12:29Z","v":-1.55},{"t":"2024-02-21T12:36Z","v":-2.2},{"t":"2024-02-21T12:41Z","v":-1.88},{"t":"2024-02-21T12:48Z","v":-2.39},{"t":"2024-02-21T12:56Z","v":-2.58},{"t":"2024-02-21T13:02Z","v":-2.04},{"t":"2024-02-21T13:05Z","v":-2.58},{"t":"2024-02-21T13:11Z","v":-1.77},{"t":"2024-02-21T13:16Z","v":-1.66},{"t":"2024-02-21T13:23Z","v":-1.45},{"t":"2024-02-21T13:27Z","v":-1.63},{"t":"2024-02-21T13:34Z","v":-1.61},{"t":"2024-02-21T13:39Z","v":-1.18},{"t":"2024-02-21T13:44Z","v":-1.12},{"t":"2024-02-21T13:51Z","v":-1.5},{"t":"2024-02-21T13:58Z","v":-1.45},{"t":"2024-02-21T14:05Z","v":-1.12},{"t":"2024-02-21T14:10Z","v":-0.72},{"t":"2024-02-21T14:16Z","v":-1.34},{"t":"2024-02-21T14:21Z","v":-1.61},{"t":"2024-02-21T14:28Z","v":-1.77},{"t":"2024-02-21T14:33Z","v":-1.93},{"t":"2024-02-21T14:39Z","v":-1.77},{"t":"2024-02-21T14:44Z","v":-1.66},{"t":"2024-02-21T14:51Z","v":-1.98},{"t":"2024-02-21T14:53Z","v":-2.28},{"t":"2024-02-21T14:58Z","v":-1.85},{"t":"2024-02-21T15:08Z","v":-2.04},{"t":"2024-02-21T15:12Z","v":-2.02},{"t":"2024-02-21T15:14Z","v":-2.4},{"t":"2024-02-21T15:19Z","v":-3.21},{"t":"2024-02-21T15:27Z","v":-3.64},{"t":"2024-02-21T15:35Z","v":-3.82},{"t":"2024-02-21T15:39Z","v":-3.17},{"t":"2024-02-21T15:42Z","v":-2.92},{"t":"2024-02-21T15:49Z","v":-3.24},{"t":"2024-02-21T15:56Z","v":-3.21},{"t":"2024-02-21T16:02Z","v":-3.39},{"t":"2024-02-21T16:07Z","v":-2.99},{"t":"2024-02-21T16:09Z","v":-3.28},{"t":"2024-02-21T16:13Z","v":-2.85},{"t":"2024-02-21T16:16Z","v":-2.17},{"t":"2024-02-21T16:20Z","v":-2.02},{"t":"2024-02-21T16:24Z","v":-1.81},{"t":"2024-02-21T16:29Z","v":-1.95},{"t":"2024-02-21T16:36Z","v":-1.52},{"t":"2024-02-21T16:38Z","v":-1.16},{"t":"2024-02-21T16:43Z","v":-1.42},{"t":"2024-02-21T16:45Z","v":-1.81},{"t":"2024-02-21T16:50Z","v":-1.56},{"t":"2024-02-21T16:57Z","v":-1.38},{"t":"2024-02-21T17:03Z","v":-1.31},{"t":"2024-02-21T17:06Z","v":-1.16},{"t":"2024-02-21T17:11Z","v":-0.73},{"t":"2024-02-21T17:14Z","v":-0.81},{"t":"2024-02-21T17:18Z","v":-1.09},{"t":"2024-02-21T17:22Z","v":-1.59},{"t":"2024-02-21T17:29Z","v":-1.52},{"t":"2024-02-21T17:33Z","v":-1.92},{"t":"2024-02-21T17:39Z","v":-1.42},{"t":"2024-02-21T17:44Z","v":-1.09},{"t":"2024-02-21T17:50Z","v":-1.09},{"t":"2024-02-21T17:55Z","v":-1.13},{"t":"2024-02-21T18:02Z","v":-0.91},{"t":"2024-02-21T18:07Z","v":-1.16},{"t":"2024-02-21T18:14Z","v":-1.24},{"t":"2024-02-21T18:19Z","v":-1.27},{"t":"2024-02-21T18:22Z","v":-1.67},{"t":"2024-02-21T18:26Z","v":-1.74},{"t":"2024-02-21T18:32Z","v":-1.88},{"t":"2024-02-21T18:37Z","v":-2.2},{"t":"2024-02-21T18:41Z","v":-2.31},{"t":"2024-02-21T18:46Z","v":-2.45},{"t":"2024-02-21T18:53Z","v":-2.56},{"t":"2024-02-21T18:58Z","v":-2.88},{"t":"2024-02-21T19:02Z","v":-3.06},{"t":"2024-02-21T19:07Z","v":-3.24},{"t":"2024-02-21T19:13Z","v":-3.17},{"t":"2024-02-21T19:17Z","v":-3.14},{"t":"2024-02-21T19:22Z","v":-3.67},{"t":"2024-02-21T19:28Z","v":-4.6},{"t":"2024-02-21T19:33Z","v":-3.89},{"t":"2024-02-21T19:37Z","v":-3.78},{"t":"2024-02-21T19:42Z","v":-3.6},{"t":"2024-02-21T19:47Z","v":-3.71},{"t":"2024-02-21T19:53Z","v":-3.71},{"t":"2024-02-21T20:00Z","v":-4.1},{"t":"2024-02-21T20:05Z","v":-3.14},{"t":"2024-02-21T20:10Z","v":-3.17},{"t":"2024-02-21T20:17Z","v":-2.92},{"t":"2024-02-21T20:24Z","v":-3.49},{"t":"2024-02-21T20:31Z","v":-3.39},{"t":"2024-02-21T20:38Z","v":-3.6},{"t":"2024-02-21T20:43Z","v":-3.5},{"t":"2024-02-21T20:47Z","v":-3.26},{"t":"2024-02-21T20:54Z","v":-3.01},{"t":"2024-02-21T21:00Z","v":-2.97},{"t":"2024-02-21T21:03Z","v":-3.23},{"t":"2024-02-21T21:10Z","v":-3.01},{"t":"2024-02-21T21:19Z","v":-2.83},{"t":"2024-02-21T21:24Z","v":-3.01},{"t":"2024-02-21T21:31Z","v":-3.05},{"t":"2024-02-21T21:37Z","v":-2.97},{"t":"2024-02-21T21:43Z","v":-3.05},{"t":"2024-02-21T21:47Z","v":-3.37},{"t":"2024-02-21T21:54Z","v":-3.41},{"t":"2024-02-21T21:57Z","v":-3.44},{"t":"2024-02-21T22:02Z","v":-3.15},{"t":"2024-02-21T22:06Z","v":-2.94},{"t":"2024-02-21T22:11Z","v":-3.01},{"t":"2024-02-21T22:16Z","v":-3.3},{"t":"2024-02-21T22:20Z","v":-3.33},{"t":"2024-02-21T22:24Z","v":-2.8},{"t":"2024-02-21T22:27Z","v":-2.22},{"t":"2024-02-21T22:32Z","v":-1.86},{"t":"2024-02-21T22:37Z","v":-1.72},{"t":"2024-02-21T22:41Z","v":-1.29},{"t":"2024-02-21T22:47Z","v":-0.86},{"t":"2024-02-21T22:52Z","v":-0.93},{"t":"2024-02-21T22:57Z","v":-0.36},{"t":"2024-02-21T23:00Z","v":-0.07},{"t":"2024-02-21T23:05Z","v":0.11},{"t":"2024-02-21T23:09Z","v":-0.29},{"t":"2024-02-21T23:15Z","v":-0.86},{"t":"2024-02-21T23:21Z","v":-0.86},{"t":"2024-02-21T23:27Z","v":-0.36},{"t":"2024-02-21T23:32Z","v":-0.18},{"t":"2024-02-21T23:37Z","v":-0.43},{"t":"2024-02-21T23:43Z","v":-0.79},{"t":"2024-02-21T23:49Z","v":-0.36},{"t":"2024-02-21T23:54Z","v":-0.72},{"t":"2024-02-22T00:01Z","v":-0.43},{"t":"2024-02-22T00:05Z","v":-0.65},{"t":"2024-02-22T00:10Z","v":-0.14},{"t":"2024-02-22T00:16Z","v":-0.11},{"t":"2024-02-22T00:21Z","v":-0.14},{"t":"2024-02-22T00:26Z","v":-0.22},{"t":"2024-02-22T00:31Z","v":-0.14},{"t":"2024-02-22T00:35Z","v":-0.07},{"t":"2024-02-22T00:40Z","v":0.0},{"t":"2024-02-22T00:45Z","v":0.22},{"t":"2024-02-22T00:50Z","v":0.43},{"t":"2024-02-22T00:54Z","v":0.14},{"t":"2024-02-22T00:59Z","v":-0.22},{"t":"2024-02-22T01:04Z","v":-0.43},{"t":"2024-02-22T01:11Z","v":-0.36},{"t":"2024-02-22T01:15Z","v":-0.5},{"t":"2024-02-22T01:22Z","v":-0.57},{"t":"2024-02-22T01:27Z","v":-0.65},{"t":"2024-02-22T01:32Z","v":-0.9},{"t":"2024-02-22T01:36Z","v":-0.75},{"t":"2024-02-22T01:41Z","v":-1.15},{"t":"2024-02-22T01:48Z","v":-1.08},{"t":"2024-02-22T01:55Z","v":-1.15},{"t":"2024-02-22T02:03Z","v":-1.4},{"t":"2024-02-22T02:07Z","v":-1.22},{"t":"2024-02-22T02:15Z","v":-1.0},{"t":"2024-02-22T02:21Z","v":-1.43},{"t":"2024-02-22T02:25Z","v":-1.54},{"t":"2024-02-22T02:31Z","v":-1.86},{"t":"2024-02-22T02:35Z","v":-2.15},{"t":"2024-02-22T02:40Z","v":-2.65},{"t":"2024-02-22T02:44Z","v":-2.54},{"t":"2024-02-22T02:49Z","v":-2.65},{"t":"2024-02-22T02:54Z","v":-2.84},{"t":"2024-02-22T02:58Z","v":-2.65},{"t":"2024-02-22T03:03Z","v":-2.54},{"t":"2024-02-22T03:10Z","v":-2.33},{"t":"2024-02-22T03:16Z","v":-1.9},{"t":"2024-02-22T03:22Z","v":-1.79},{"t":"2024-02-22T03:29Z","v":-2.01},{"t":"2024-02-22T03:36Z","v":-2.41},{"t":"2024-02-22T03:40Z","v":-2.3},{"t":"2024-02-22T03:44Z","v":-2.19},{"t":"2024-02-22T03:50Z","v":-2.54},{"t":"2024-02-22T03:55Z","v":-2.38},{"t":"2024-02-22T04:03Z","v":-2.33},{"t":"2024-02-22T04:09Z","v":-2.14},{"t":"2024-02-22T04:15Z","v":-2.06},{"t":"2024-02-22T04:20Z","v":-1.9},{"t":"2024-02-22T04:23Z","v":-2.06},{"t":"2024-02-22T04:30Z","v":-1.92},{"t":"2024-02-22T04:35Z","v":-2.17},{"t":"2024-02-22T04:42Z","v":-1.79},{"t":"2024-02-22T04:47Z","v":-1.58},{"t":"2024-02-22T04:53Z","v":-1.23},{"t":"2024-02-22T05:00Z","v":-1.52},{"t":"2024-02-22T05:03Z","v":-1.6},{"t":"2024-02-22T05:08Z","v":-1.28},{"t":"2024-02-22T05:13Z","v":-1.2},{"t":"2024-02-22T05:19Z","v":-1.09},{"t":"2024-02-22T05:22Z","v":-1.31},{"t":"2024-02-22T05:29Z","v":-1.36},{"t":"2024-02-22T05:34Z","v":-1.42},{"t":"2024-02-22T05:41Z","v":-1.52},{"t":"2024-02-22T05:48Z","v":-1.33},{"t":"2024-02-22T05:53Z","v":-1.79},{"t":"2024-02-22T05:57Z","v":-1.68},{"t":"2024-02-22T06:04Z","v":-1.58},{"t":"2024-02-22T06:09Z","v":-1.63},{"t":"2024-02-22T06:14Z","v":-1.6},{"t":"2024-02-22T06:19Z","v":-1.23},{"t":"2024-02-22T06:23Z","v":-1.04},{"t":"2024-02-22T06:28Z","v":-1.17},{"t":"2024-02-22T06:33Z","v":-1.25},{"t":"2024-02-22T06:40Z","v":-1.2},{"t":"2024-02-22T06:47Z","v":-1.07},{"t":"2024-02-22T06:50Z","v":-0.96},{"t":"2024-02-22T06:54Z","v":-1.39},{"t":"2024-02-22T07:01Z","v":-1.31},{"t":"2024-02-22T07:08Z","v":-1.12},{"t":"2024-02-22T07:15Z","v":-0.99},{"t":"2024-02-22T07:22Z","v":-0.72},{"t":"2024-02-22T07:29Z","v":-0.45},{"t":"2024-02-22T07:36Z","v":-0.29},{"t":"2024-02-22T07:43Z","v":-0.1},{"t":"2024-02-22T07:48Z","v":0.09},{"t":"2024-02-22T07:53Z","v":0.03},{"t":"2024-02-22T07:58Z","v":0.22},{"t":"2024-02-22T08:01Z","v":-0.83},{"t":"2024-02-22T08:03Z","v":-0.98},{"t":"2024-02-22T08:07Z","v":-1.26},{"t":"2024-02-22T08:12Z","v":-0.61},{"t":"2024-02-22T08:16Z","v":-0.95},{"t":"2024-02-22T08:20Z","v":-0.64},{"t":"2024-02-22T08:24Z","v":-0.39},{"t":"2024-02-22T08:31Z","v":-0.52},{"t":"2024-02-22T08:35Z","v":-0.39},{"t":"2024-02-22T08:41Z","v":-0.24},{"t":"2024-02-22T08:46Z","v":0.0},{"t":"2024-02-22T08:50Z","v":-0.3},{"t":"2024-02-22T08:54Z","v":-0.15},{"t":"2024-02-22T08:58Z","v":-0.12},{"t":"2024-02-22T09:03Z","v":0.0},{"t":"2024-02-22T09:07Z","v":0.81},{"t":"2024-02-22T09:11Z","v":0.81},{"t":"2024-02-22T09:15Z","v":0.56},{"t":"2024-02-22T09:22Z","v":0.68},{"t":"2024-02-22T09:26Z","v":0.31},{"t":"2024-02-22T09:30Z","v":0.03},{"t":"2024-02-22T09:33Z","v":-0.12},{"t":"2024-02-22T09:36Z","v":0.25},{"t":"2024-02-22T09:39Z","v":0.5},{"t":"2024-02-22T09:45Z","v":0.34},{"t":"2024-02-22T09:49Z","v":0.62},{"t":"2024-02-22T09:53Z","v":0.56},{"t":"2024-02-22T09:59Z","v":0.62},{"t":"2024-02-22T10:04Z","v":0.68},{"t":"2024-02-22T10:06Z","v":0.87},{"t":"2024-02-22T10:10Z","v":0.93},{"t":"2024-02-22T10:13Z","v":0.68},{"t":"2024-02-22T10:19Z","v":0.44},{"t":"2024-02-22T10:23Z","v":0.99},{"t":"2024-02-22T10:29Z","v":1.27},{"t":"2024-02-22T10:33Z","v":0.99},{"t":"2024-02-22T10:38Z","v":0.87},{"t":"2024-02-22T10:41Z","v":1.54},{"t":"2024-02-22T10:46Z","v":1.48},{"t":"2024-02-22T10:50Z","v":1.54},{"t":"2024-02-22T10:53Z","v":1.76},{"t":"2024-02-22T10:57Z","v":1.54},{"t":"2024-02-22T11:01Z","v":1.3},{"t":"2024-02-22T11:05Z","v":1.11},{"t":"2024-02-22T11:09Z","v":1.18},{"t":"2024-02-22T11:14Z","v":1.24},{"t":"2024-02-22T11:18Z","v":1.36},{"t":"2024-02-22T11:22Z","v":1.39},{"t":"2024-02-22T11:26Z","v":1.67},{"t":"2024-02-22T11:33Z","v":1.85},{"t":"2024-02-22T11:36Z","v":0.87},{"t":"2024-02-22T11:41Z","v":0.87},{"t":"2024-02-22T11:47Z","v":0.87},{"t":"2024-02-22T11:52Z","v":1.11},{"t":"2024-02-22T11:58Z","v":0.99},{"t":"2024-02-22T12:02Z","v":0.87},{"t":"2024-02-22T12:08Z","v":0.87},{"t":"2024-02-22T12:13Z","v":1.11},{"t":"2024-02-22T12:18Z","v":0.87},{"t":"2024-02-22T12:21Z","v":0.93},{"t":"2024-02-22T12:30Z","v":0.87},{"t":"2024-02-22T12:34Z","v":0.93},{"t":"2024-02-22T12:40Z","v":0.87},{"t":"2024-02-22T12:44Z","v":0.9}],
"ada":[{"t":"2024-02-21T09:22Z","v":0.05},{"t":"2024-02-21T09:30Z","v":0.57},{"t":"2024-02-21T09:34Z","v":0.4},{"t":"2024-02-21T09:40Z","v":0.41},{"t":"2024-02-21T09:47Z","v":0.42},{"t":"2024-02-21T09:55Z","v":0.49},{"t":"2024-02-21T10:00Z","v":0.27},{"t":"2024-02-21T10:05Z","v":-0.1},{"t":"2024-02-21T10:08Z","v":-0.32},{"t":"2024-02-21T10:12Z","v":-0.59},{"t":"2024-02-21T10:16Z","v":-0.42},{"t":"2024-02-21T10:21Z","v":-0.59},{"t":"2024-02-21T10:26Z","v":-1.02},{"t":"2024-02-21T10:30Z","v":-1.18},{"t":"2024-02-21T10:36Z","v":-1.02},{"t":"2024-02-21T10:41Z","v":-1.61},{"t":"2024-02-21T10:47Z","v":-1.42},{"t":"2024-02-21T10:51Z","v":-1.18},{"t":"2024-02-21T10:58Z","v":-2.17},{"t":"2024-02-21T11:03Z","v":-1.31},{"t":"2024-02-21T11:08Z","v":-1.77},{"t":"2024-02-21T11:11Z","v":-2.04},{"t":"2024-02-21T11:16Z","v":-1.5},{"t":"2024-02-21T11:19Z","v":-1.47},{"t":"2024-02-21T11:29Z","v":-1.12},{"t":"2024-02-21T11:36Z","v":-1.2},{"t":"2024-02-21T11:43Z","v":-1.26},{"t":"2024-02-21T11:52Z","v":-0.64},{"t":"2024-02-21T11:57Z","v":-0.96},{"t":"2024-02-21T12:07Z","v":-0.8},{"t":"2024-02-21T12:15Z","v":-1.02},{"t":"2024-02-21T12:22Z","v":-1.07},{"t":"2024-02-21T12:29Z","v":-1.2},{"t":"2024-02-21T12:36Z","v":-1.61},{"t":"2024-02-21T12:41Z","v":-1.45},{"t":"2024-02-21T12:48Z","v":-1.63},{"t":"2024-02-21T12:56Z","v":-1.98},{"t":"2024-02-21T13:02Z","v":-1.77},{"t":"2024-02-21T13:05Z","v":-2.04},{"t":"2024-02-21T13:11Z","v":-1.66},{"t":"2024-02-21T13:16Z","v":-0.96},{"t":"2024-02-21T13:23Z","v":-0.75},{"t":"2024-02-21T13:27Z","v":-0.56},{"t":"2024-02-21T13:34Z","v":-0.75},{"t":"2024-02-21T13:39Z","v":-0.45},{"t":"2024-02-21T13:44Z","v":-0.37},{"t":"2024-02-21T13:51Z","v":-0.59},{"t":"2024-02-21T13:58Z","v":-0.59},{"t":"2024-02-21T14:05Z","v":-0.53},{"t":"2024-02-21T14:10Z","v":-0.29},{"t":"2024-02-21T14:16Z","v":-0.75},{"t":"2024-02-21T14:21Z","v":-0.96},{"t":"2024-02-21T14:28Z","v":-1.12},{"t":"2024-02-21T14:33Z","v":-1.12},{"t":"2024-02-21T14:39Z","v":-0.96},{"t":"2024-02-21T14:44Z","v":-0.83},{"t":"2024-02-21T14:51Z","v":-1.07},{"t":"2024-02-21T14:53Z","v":-0.83},{"t":"2024-02-21T14:58Z","v":-0.69},{"t":"2024-02-21T15:08Z","v":-0.91},{"t":"2024-02-21T15:12Z","v":-1.09},{"t":"2024-02-21T15:14Z","v":-1.12},{"t":"2024-02-21T15:19Z","v":-1.95},{"t":"2024-02-21T15:27Z","v":-2.38},{"t":"2024-02-21T15:35Z","v":-2.38},{"t":"2024-02-21T15:39Z","v":-1.59},{"t":"2024-02-21T15:42Z","v":-1.24},{"t":"2024-02-21T15:49Z","v":-1.67},{"t":"2024-02-21T15:56Z","v":-1.59},{"t":"2024-02-21T16:02Z","v":-1.74},{"t":"2024-02-21T16:07Z","v":-1.59},{"t":"2024-02-21T16:09Z","v":-1.55},{"t":"2024-02-21T16:13Z","v":-1.42},{"t":"2024-02-21T16:16Z","v":-1.31},{"t":"2024-02-21T16:20Z","v":-0.66},{"t":"2024-02-21T16:24Z","v":-0.56},{"t":"2024-02-21T16:29Z","v":-0.66},{"t":"2024-02-21T16:36Z","v":-0.66},{"t":"2024-02-21T16:38Z","v":-0.68},{"t":"2024-02-21T16:43Z","v":-0.73},{"t":"2024-02-21T16:45Z","v":-0.9},{"t":"2024-02-21T16:50Z","v":-1.09},{"t":"2024-02-21T16:57Z","v":-1.16},{"t":"2024-02-21T17:03Z","v":-1.09},{"t":"2024-02-21T17:06Z","v":-1.49},{"t":"2024-02-21T17:11Z","v":-0.73},{"t":"2024-02-21T17:14Z","v":-0.77},{"t":"2024-02-21T17:18Z","v":-1.09},{"t":"2024-02-21T17:22Z","v":-1.67},{"t":"2024-02-21T17:29Z","v":-1.63},{"t":"2024-02-21T17:33Z","v":-1.81},{"t":"2024-02-21T17:39Z","v":-1.38},{"t":"2024-02-21T17:44Z","v":-0.88},{"t":"2024-02-21T17:50Z","v":-1.09},{"t":"2024-02-21T17:55Z","v":-0.95},{"t":"2024-02-21T18:02Z","v":-1.16},{"t":"2024-02-21T18:07Z","v":-1.31},{"t":"2024-02-21T18:14Z","v":-1.31},{"t":"2024-02-21T18:19Z","v":-1.49},{"t":"2024-02-21T18:22Z","v":-1.74},{"t":"2024-02-21T18:26Z","v":-1.81},{"t":"2024-02-21T18:32Z","v":-1.81},{"t":"2024-02-21T18:37Z","v":-2.13},{"t":"2024-02-21T18:41Z","v":-2.24},{"t":"2024-02-21T18:46Z","v":-2.24},{"t":"2024-02-21T18:53Z","v":-2.1},{"t":"2024-02-21T18:58Z","v":-2.31},{"t":"2024-02-21T19:02Z","v":-2.45},{"t":"2024-02-21T19:07Z","v":-2.31},{"t":"2024-02-21T19:13Z","v":-2.38},{"t":"2024-02-21T19:17Z","v":-2.31},{"t":"2024-02-21T19:22Z","v":-2.85},{"t":"2024-02-21T19:28Z","v":-3.57},{"t":"2024-02-21T19:33Z","v":-2.88},{"t":"2024-02-21T19:37Z","v":-2.88},{"t":"2024-02-21T19:42Z","v":-2.74},{"t":"2024-02-21T19:47Z","v":-2.95},{"t":"2024-02-21T19:53Z","v":-3.1},{"t":"2024-02-21T20:00Z","v":-3.1},{"t":"2024-02-21T20:05Z","v":-2.38},{"t":"2024-02-21T20:10Z","v":-2.6},{"t":"2024-02-21T20:17Z","v":-2.35},{"t":"2024-02-21T20:24Z","v":-2.67},{"t":"2024-02-21T20:31Z","v":-2.63},{"t":"2024-02-21T20:38Z","v":-2.6},{"t":"2024-02-21T20:43Z","v":-2.55},{"t":"2024-02-21T20:47Z","v":-2.4},{"t":"2024-02-21T20:54Z","v":-2.22},{"t":"2024-02-21T21:00Z","v":-2.15},{"t":"2024-02-21T21:03Z","v":-2.37},{"t":"2024-02-21T21:10Z","v":-2.26},{"t":"2024-02-21T21:19Z","v":-1.97},{"t":"2024-02-21T21:24Z","v":-1.94},{"t":"2024-02-21T21:31Z","v":-1.79},{"t":"2024-02-21T21:37Z","v":-1.65},{"t":"2024-02-21T21:43Z","v":-1.86},{"t":"2024-02-21T21:47Z","v":-2.08},{"t":"2024-02-21T21:54Z","v":-2.15},{"t":"2024-02-21T21:57Z","v":-2.26},{"t":"2024-02-21T22:02Z","v":-2.08},{"t":"2024-02-21T22:06Z","v":-1.72},{"t":"2024-02-21T22:11Z","v":-1.86},{"t":"2024-02-21T22:16Z","v":-2.01},{"t":"2024-02-21T22:20Z","v":-1.58},{"t":"2024-02-21T22:24Z","v":-2.01},{"t":"2024-02-21T22:27Z","v":-1.43},{"t":"2024-02-21T22:32Z","v":-1.36},{"t":"2024-02-21T22:37Z","v":-1.15},{"t":"2024-02-21T22:41Z","v":-1.0},{"t":"2024-02-21T22:47Z","v":-0.86},{"t":"2024-02-21T22:52Z","v":-0.79},{"t":"2024-02-21T22:57Z","v":-0.5},{"t":"2024-02-21T23:00Z","v":-0.48},{"t":"2024-02-21T23:05Z","v":-0.5},{"t":"2024-02-21T23:09Z","v":-0.61},{"t":"2024-02-21T23:15Z","v":-0.72},{"t":"2024-02-21T23:21Z","v":-0.65},{"t":"2024-02-21T23:27Z","v":-0.5},{"t":"2024-02-21T23:32Z","v":-0.43},{"t":"2024-02-21T23:37Z","v":-0.36},{"t":"2024-02-21T23:43Z","v":-0.47},{"t":"2024-02-21T23:49Z","v":-0.29},{"t":"2024-02-21T23:54Z","v":-0.47},{"t":"2024-02-22T00:01Z","v":-0.07},{"t":"2024-02-22T00:05Z","v":0.0},{"t":"2024-02-22T00:10Z","v":0.14},{"t":"2024-02-22T00:16Z","v":0.11},{"t":"2024-02-22T00:21Z","v":0.14},{"t":"2024-02-22T00:26Z","v":0.07},{"t":"2024-02-22T00:31Z","v":0.22},{"t":"2024-02-22T00:35Z","v":0.29},{"t":"2024-02-22T00:40Z","v":0.43},{"t":"2024-02-22T00:45Z","v":0.47},{"t":"2024-02-22T00:50Z","v":0.5},{"t":"2024-02-22T00:54Z","v":0.36},{"t":"2024-02-22T00:59Z","v":0.29},{"t":"2024-02-22T01:04Z","v":0.0},{"t":"2024-02-22T01:11Z","v":0.22},{"t":"2024-02-22T01:15Z","v":0.11},{"t":"2024-02-22T01:22Z","v":-0.04},{"t":"2024-02-22T01:27Z","v":-0.29},{"t":"2024-02-22T01:32Z","v":-0.39},{"t":"2024-02-22T01:36Z","v":-0.22},{"t":"2024-02-22T01:41Z","v":-0.5},{"t":"2024-02-22T01:48Z","v":-0.5},{"t":"2024-02-22T01:55Z","v":-0.36},{"t":"2024-02-22T02:03Z","v":-0.72},{"t":"2024-02-22T02:07Z","v":-0.5},{"t":"2024-02-22T02:15Z","v":-0.36},{"t":"2024-02-22T02:21Z","v":-0.79},{"t":"2024-02-22T02:25Z","v":-0.72},{"t":"2024-02-22T02:31Z","v":-1.15},{"t":"2024-02-22T02:35Z","v":-1.51},{"t":"2024-02-22T02:40Z","v":-1.86},{"t":"2024-02-22T02:44Z","v":-1.74},{"t":"2024-02-22T02:49Z","v":-2.01},{"t":"2024-02-22T02:54Z","v":-2.3},{"t":"2024-02-22T02:58Z","v":-2.01},{"t":"2024-02-22T03:03Z","v":-1.82},{"t":"2024-02-22T03:10Z","v":-1.82},{"t":"2024-02-22T03:16Z","v":-1.66},{"t":"2024-02-22T03:22Z","v":-1.58},{"t":"2024-02-22T03:29Z","v":-1.74},{"t":"2024-02-22T03:36Z","v":-2.11},{"t":"2024-02-22T03:40Z","v":-2.01},{"t":"2024-02-22T03:44Z","v":-1.9},{"t":"2024-02-22T03:50Z","v":-2.06},{"t":"2024-02-22T03:55Z","v":-2.22},{"t":"2024-02-22T04:03Z","v":-2.3},{"t":"2024-02-22T04:09Z","v":-2.09},{"t":"2024-02-22T04:15Z","v":-1.92},{"t":"2024-02-22T04:20Z","v":-1.66},{"t":"2024-02-22T04:23Z","v":-1.79},{"t":"2024-02-22T04:30Z","v":-1.47},{"t":"2024-02-22T04:35Z","v":-1.68},{"t":"2024-02-22T04:42Z","v":-1.58},{"t":"2024-02-22T04:47Z","v":-1.42},{"t":"2024-02-22T04:53Z","v":-1.23},{"t":"2024-02-22T05:00Z","v":-1.42},{"t":"2024-02-22T05:03Z","v":-1.58},{"t":"2024-02-22T05:08Z","v":-1.42},{"t":"2024-02-22T05:13Z","v":-1.33},{"t":"2024-02-22T05:19Z","v":-1.42},{"t":"2024-02-22T05:22Z","v":-1.47},{"t":"2024-02-22T05:29Z","v":-1.68},{"t":"2024-02-22T05:34Z","v":-1.87},{"t":"2024-02-22T05:41Z","v":-1.95},{"t":"2024-02-22T05:48Z","v":-1.74},{"t":"2024-02-22T05:53Z","v":-2.17},{"t":"2024-02-22T05:57Z","v":-1.92},{"t":"2024-02-22T06:04Z","v":-1.87},{"t":"2024-02-22T06:09Z","v":-2.06},{"t":"2024-02-22T06:14Z","v":-1.95},{"t":"2024-02-22T06:19Z","v":-1.52},{"t":"2024-02-22T06:23Z","v":-1.42},{"t":"2024-02-22T06:28Z","v":-1.36},{"t":"2024-02-22T06:33Z","v":-1.6},{"t":"2024-02-22T06:40Z","v":-1.42},{"t":"2024-02-22T06:47Z","v":-1.2},{"t":"2024-02-22T06:50Z","v":-1.09},{"t":"2024-02-22T06:54Z","v":-1.36},{"t":"2024-02-22T07:01Z","v":-1.25},{"t":"2024-02-22T07:08Z","v":-1.04},{"t":"2024-02-22T07:15Z","v":-0.99},{"t":"2024-02-22T07:22Z","v":-0.69},{"t":"2024-02-22T07:29Z","v":-0.34},{"t":"2024-02-22T07:36Z","v":0.14},{"t":"2024-02-22T07:43Z","v":-0.08},{"t":"2024-02-22T07:48Z","v":0.62},{"t":"2024-02-22T07:53Z","v":0.76},{"t":"2024-02-22T07:58Z","v":1.0},{"t":"2024-02-22T08:01Z","v":0.51},{"t":"2024-02-22T08:03Z","v":0.38},{"t":"2024-02-22T08:07Z","v":0.28},{"t":"2024-02-22T08:12Z","v":0.62},{"t":"2024-02-22T08:16Z","v":0.62},{"t":"2024-02-22T08:20Z","v":1.18},{"t":"2024-02-22T08:24Z","v":1.27},{"t":"2024-02-22T08:31Z","v":1.08},{"t":"2024-02-22T08:35Z","v":1.36},{"t":"2024-02-22T08:41Z","v":1.36},{"t":"2024-02-22T08:46Z","v":1.33},{"t":"2024-02-22T08:50Z","v":1.05},{"t":"2024-02-22T08:54Z","v":1.02},{"t":"2024-02-22T08:58Z","v":0.96},{"t":"2024-02-22T09:03Z","v":0.81},{"t":"2024-02-22T09:07Z","v":1.7},{"t":"2024-02-22T09:11Z","v":1.76},{"t":"2024-02-22T09:15Z","v":1.36},{"t":"2024-02-22T09:22Z","v":1.79},{"t":"2024-02-22T09:26Z","v":1.42},{"t":"2024-02-22T09:30Z","v":1.42},{"t":"2024-02-22T09:33Z","v":1.24},{"t":"2024-02-22T09:36Z","v":1.42},{"t":"2024-02-22T09:39Z","v":1.79},{"t":"2024-02-22T09:45Z","v":1.67},{"t":"2024-02-22T09:49Z","v":1.79},{"t":"2024-02-22T09:53Z","v":2.04},{"t":"2024-02-22T09:59Z","v":1.94},{"t":"2024-02-22T10:04Z","v":1.79},{"t":"2024-02-22T10:06Z","v":1.94},{"t":"2024-02-22T10:10Z","v":1.91},{"t":"2024-02-22T10:13Z","v":1.61},{"t":"2024-02-22T10:19Z","v":1.33},{"t":"2024-02-22T10:23Z","v":1.42},{"t":"2024-02-22T10:29Z","v":1.24},{"t":"2024-02-22T10:33Z","v":1.08},{"t":"2024-02-22T10:38Z","v":1.05},{"t":"2024-02-22T10:41Z","v":1.82},{"t":"2024-02-22T10:46Z","v":1.91},{"t":"2024-02-22T10:50Z","v":2.04},{"t":"2024-02-22T10:53Z","v":2.07},{"t":"2024-02-22T10:57Z","v":1.91},{"t":"2024-02-22T11:01Z","v":1.61},{"t":"2024-02-22T11:05Z","v":1.36},{"t":"2024-02-22T11:09Z","v":1.33},{"t":"2024-02-22T11:14Z","v":1.42},{"t":"2024-02-22T11:18Z","v":1.42},{"t":"2024-02-22T11:22Z","v":1.48},{"t":"2024-02-22T11:26Z","v":1.42},{"t":"2024-02-22T11:33Z","v":1.3},{"t":"2024-02-22T11:36Z","v":0.87},{"t":"2024-02-22T11:41Z","v":0.81},{"t":"2024-02-22T11:47Z","v":0.84},{"t":"2024-02-22T11:52Z","v":0.9},{"t":"2024-02-22T11:58Z","v":0.85},{"t":"2024-02-22T12:02Z","v":0.82},{"t":"2024-02-22T12:08Z","v":0.86},{"t":"2024-02-22T12:13Z","v":0.84},{"t":"2024-02-22T12:18Z","v":0.8},{"t":"2024-02-22T12:21Z","v":0.83},{"t":"2024-02-22T12:30Z","v":0.85},{"t":"2024-02-22T12:34Z","v":0.82},{"t":"2024-02-22T12:40Z","v":0.84},{"t":"2024-02-22T12:44Z","v":0.83}]
},
"layer":[
{"data":{"values":[{}]},"mark":{"type":"rect","fill":"transparent","stroke":"#E0E3EB","strokeWidth":2},
 "encoding":{"x":{"datum":{"year":2024,"month":2,"date":21,"hours":9,"minutes":21,"seconds":47,"utc":true},"type":"temporal"},
  "x2":{"datum":{"year":2024,"month":2,"date":22,"hours":14,"minutes":2,"seconds":25,"utc":true}},
  "y":{"datum":3.947,"type":"quantitative"},"y2":{"datum":-5.852}}},
{"data":{"values":[{}]},"mark":{"type":"point","shape":"circle","size":894916,"filled":true,"fill":"#FF9800","fillOpacity":0.2,"stroke":"#FF9800","strokeWidth":3.5,"strokeOpacity":1,"opacity":1},
 "encoding":{"x":{"datum":{"year":2024,"month":2,"date":21,"hours":22,"minutes":27,"seconds":22,"utc":true},"type":"temporal"},
  "y":{"datum":-1.085,"type":"quantitative"}}},
{"data":{"values":[{}]},"mark":{"type":"rule","color":"#B2B5BE","strokeWidth":2.5},
 "encoding":{"y":{"datum":0,"type":"quantitative"}}},
{"data":{"name":"sol"},"mark":{"type":"line","color":"#26C6DA","strokeWidth":3.4,"strokeJoin":"round"},
 "encoding":{
  "x":{"field":"t","type":"temporal","scale":{"type":"utc","domain":[{"year":2024,"month":2,"date":21,"hours":9,"minutes":21,"seconds":47,"utc":true},{"year":2024,"month":2,"date":22,"hours":12,"minutes":44,"seconds":24,"utc":true}]},
   "axis":{"title":null,"grid":true,"labelPadding":17,"labelFlush":false,"labelOverlap":false,
    "values":[{"year":2024,"month":2,"date":21,"hours":12,"utc":true},{"year":2024,"month":2,"date":21,"hours":15,"utc":true},{"year":2024,"month":2,"date":21,"hours":18,"utc":true},{"year":2024,"month":2,"date":21,"hours":21,"utc":true},{"year":2024,"month":2,"date":22,"hours":0,"utc":true},{"year":2024,"month":2,"date":22,"hours":3,"utc":true},{"year":2024,"month":2,"date":22,"hours":6,"utc":true},{"year":2024,"month":2,"date":22,"hours":9,"utc":true},{"year":2024,"month":2,"date":22,"hours":12,"utc":true}],
    "labelExpr":"utchours(datum.value) == 0 ? '22' : utcFormat(datum.value, '%H:%M')",
    "labelFontWeight":{"condition":{"test":"utchours(datum.value) == 0","value":"bold"},"value":"normal"}}},
  "y":{"field":"v","type":"quantitative","scale":{"domain":[-5.394,3.947],"nice":false,"zero":false},
   "axis":{"title":null,"orient":"right","grid":true,"labelPadding":19,"labelAlign":"left","labelBaseline":"middle","labelFlush":false,"labelOverlap":false,
    "values":[-5,-4.5,-4,-3.5,-3,-2.5,-2,-1.5,-1,-0.5,0,0.5,1,1.5,2,2.5,3,3.5],
    "labelExpr":"(datum.value > 3.2 || datum.value == 0 || datum.value == 0.5) ? '' : format(datum.value, '.2f') + '%'"}}}},
{"data":{"name":"ada"},"mark":{"type":"line","color":"#FBC02D","strokeWidth":3.4,"strokeJoin":"round"},
 "encoding":{"x":{"field":"t","type":"temporal","title":null},"y":{"field":"v","type":"quantitative","title":null}}},
{"data":{"name":"eth"},"mark":{"type":"line","color":"#F57C00","strokeWidth":3.4,"strokeJoin":"round"},
 "encoding":{"x":{"field":"t","type":"temporal","title":null},"y":{"field":"v","type":"quantitative","title":null}}},
{"data":{"name":"btc"},"mark":{"type":"line","color":"#2962FF","strokeWidth":3.4,"strokeJoin":"round"},
 "encoding":{"x":{"field":"t","type":"temporal","title":null},"y":{"field":"v","type":"quantitative","title":null}}},
{"data":{"values":[{}]},"mark":{"type":"text","align":"left","baseline":"middle","font":"Inter","fontSize":23,"color":"#131722","text":"Bitcoin / U.S. Dollar, 1, BITSTAMP"},
 "encoding":{"x":{"datum":{"year":2024,"month":2,"date":21,"hours":9,"minutes":31,"seconds":52,"utc":true},"type":"temporal"},"y":{"datum":3.706,"type":"quantitative"}}},
{"data":{"values":[{}]},"mark":{"type":"text","align":"left","baseline":"middle","font":"Inter","fontSize":23,"color":"#131722","text":"ETHUSD · BITSTAMP"},
 "encoding":{"x":{"datum":{"year":2024,"month":2,"date":21,"hours":9,"minutes":31,"seconds":52,"utc":true},"type":"temporal"},"y":{"datum":3.424,"type":"quantitative"}}},
{"data":{"values":[{}]},"mark":{"type":"text","align":"left","baseline":"middle","font":"Inter","fontSize":23,"color":"#131722","text":"SOLUSD · COINBASE"},
 "encoding":{"x":{"datum":{"year":2024,"month":2,"date":21,"hours":9,"minutes":31,"seconds":52,"utc":true},"type":"temporal"},"y":{"datum":3.151,"type":"quantitative"}}},
{"data":{"values":[{}]},"mark":{"type":"text","align":"left","baseline":"middle","font":"Inter","fontSize":23,"color":"#131722","text":"ADAUSDT.P · BYBIT"},
 "encoding":{"x":{"datum":{"year":2024,"month":2,"date":21,"hours":9,"minutes":31,"seconds":52,"utc":true},"type":"temporal"},"y":{"datum":2.87,"type":"quantitative"}}},
{"data":{"values":[{}]},"mark":{"type":"text","align":"left","baseline":"middle","font":"Inter","fontSize":23,"color":"#2962FF","text":"0.12%"},
 "encoding":{"x":{"datum":{"year":2024,"month":2,"date":21,"hours":13,"minutes":32,"seconds":2,"utc":true},"type":"temporal"},"y":{"datum":3.706,"type":"quantitative"}}},
{"data":{"values":[{}]},"mark":{"type":"text","align":"left","baseline":"middle","font":"Inter","fontSize":23,"color":"#F57C00","text":"1.91%"},
 "encoding":{"x":{"datum":{"year":2024,"month":2,"date":21,"hours":12,"minutes":9,"seconds":25,"utc":true},"type":"temporal"},"y":{"datum":3.424,"type":"quantitative"}}},
{"data":{"values":[{}]},"mark":{"type":"text","align":"left","baseline":"middle","font":"Inter","fontSize":23,"color":"#26C6DA","text":"0.89%"},
 "encoding":{"x":{"datum":{"year":2024,"month":2,"date":21,"hours":12,"minutes":12,"seconds":36,"utc":true},"type":"temporal"},"y":{"datum":3.151,"type":"quantitative"}}},
{"data":{"values":[{}]},"mark":{"type":"text","align":"left","baseline":"middle","font":"Inter","fontSize":23,"color":"#FBC02D","text":"1.01%"},
 "encoding":{"x":{"datum":{"year":2024,"month":2,"date":21,"hours":12,"minutes":0,"seconds":36,"utc":true},"type":"temporal"},"y":{"datum":2.87,"type":"quantitative"}}},
{"data":{"values":[{}]},"mark":{"type":"rect","fill":"white","stroke":"#E0E3EB","strokeWidth":2,"cornerRadius":8},
 "encoding":{"x":{"datum":{"year":2024,"month":2,"date":22,"hours":12,"minutes":50,"seconds":31,"utc":true},"type":"temporal"},"x2":{"datum":{"year":2024,"month":2,"date":22,"hours":13,"minutes":59,"seconds":13,"utc":true}},"y":{"datum":3.875,"type":"quantitative"},"y2":{"datum":3.465}}},
{"data":{"values":[{}]},"mark":{"type":"text","align":"center","baseline":"middle","font":"Inter","fontSize":23,"color":"#131722","text":"Mixed"},
 "encoding":{"x":{"datum":{"year":2024,"month":2,"date":22,"hours":13,"minutes":24,"seconds":36,"utc":true},"type":"temporal"},"y":{"datum":3.666,"type":"quantitative"}}},
{"data":{"values":[{}]},"mark":{"type":"rect","fill":"white","stroke":"#F57C00","strokeWidth":2,"cornerRadius":3},
 "encoding":{"x":{"datum":{"year":2024,"month":2,"date":22,"hours":11,"minutes":31,"seconds":5,"utc":true},"type":"temporal"},"x2":{"datum":{"year":2024,"month":2,"date":22,"hours":12,"minutes":43,"seconds":37,"utc":true}},"y":{"datum":1.471,"type":"quantitative"},"y2":{"datum":1.222}}},
{"data":{"values":[{}]},"mark":{"type":"rect","fill":"white","stroke":"#F57C00","strokeWidth":2,"cornerRadius":3},
 "encoding":{"x":{"datum":{"year":2024,"month":2,"date":22,"hours":12,"minutes":46,"seconds":8,"utc":true},"type":"temporal"},"x2":{"datum":{"year":2024,"month":2,"date":22,"hours":13,"minutes":58,"seconds":37,"utc":true}},"y":{"datum":1.471,"type":"quantitative"},"y2":{"datum":1.222}}},
{"data":{"values":[{}]},"mark":{"type":"text","align":"center","baseline":"middle","font":"Inter","fontSize":23,"color":"#F57C00","text":"ETHUSD"},
 "encoding":{"x":{"datum":{"year":2024,"month":2,"date":22,"hours":12,"minutes":7,"seconds":22,"utc":true},"type":"temporal"},"y":{"datum":1.346,"type":"quantitative"}}},
{"data":{"values":[{}]},"mark":{"type":"text","align":"center","baseline":"middle","font":"Inter","fontSize":23,"color":"#F57C00","text":"+1.35%"},
 "encoding":{"x":{"datum":{"year":2024,"month":2,"date":22,"hours":13,"minutes":22,"seconds":19,"utc":true},"type":"temporal"},"y":{"datum":1.346,"type":"quantitative"}}},
{"data":{"values":[{}]},"mark":{"type":"rect","fill":"white","stroke":"#26C6DA","strokeWidth":2,"cornerRadius":3},
 "encoding":{"x":{"datum":{"year":2024,"month":2,"date":22,"hours":11,"minutes":31,"seconds":5,"utc":true},"type":"temporal"},"x2":{"datum":{"year":2024,"month":2,"date":22,"hours":12,"minutes":43,"seconds":37,"utc":true}},"y":{"datum":0.796,"type":"quantitative"},"y2":{"datum":0.539}}},
{"data":{"values":[{}]},"mark":{"type":"rect","fill":"white","stroke":"#26C6DA","strokeWidth":2,"cornerRadius":3},
 "encoding":{"x":{"datum":{"year":2024,"month":2,"date":22,"hours":12,"minutes":46,"seconds":8,"utc":true},"type":"temporal"},"x2":{"datum":{"year":2024,"month":2,"date":22,"hours":13,"minutes":58,"seconds":37,"utc":true}},"y":{"datum":0.796,"type":"quantitative"},"y2":{"datum":0.539}}},
{"data":{"values":[{}]},"mark":{"type":"text","align":"center","baseline":"middle","font":"Inter","fontSize":23,"color":"#26C6DA","text":"SOLUSD"},
 "encoding":{"x":{"datum":{"year":2024,"month":2,"date":22,"hours":12,"minutes":7,"seconds":22,"utc":true},"type":"temporal"},"y":{"datum":0.667,"type":"quantitative"}}},
{"data":{"values":[{}]},"mark":{"type":"text","align":"center","baseline":"middle","font":"Inter","fontSize":23,"color":"#26C6DA","text":"+0.42%"},
 "encoding":{"x":{"datum":{"year":2024,"month":2,"date":22,"hours":13,"minutes":22,"seconds":19,"utc":true},"type":"temporal"},"y":{"datum":0.667,"type":"quantitative"}}},
{"data":{"values":[{}]},"mark":{"type":"rect","fill":"white","stroke":"#FBC02D","strokeWidth":2,"cornerRadius":3},
 "encoding":{"x":{"datum":{"year":2024,"month":2,"date":22,"hours":11,"minutes":7,"seconds":48,"utc":true},"type":"temporal"},"x2":{"datum":{"year":2024,"month":2,"date":22,"hours":12,"minutes":43,"seconds":37,"utc":true}},"y":{"datum":0.523,"type":"quantitative"},"y2":{"datum":0.265}}},
{"data":{"values":[{}]},"mark":{"type":"rect","fill":"white","stroke":"#FBC02D","strokeWidth":2,"cornerRadius":3},
 "encoding":{"x":{"datum":{"year":2024,"month":2,"date":22,"hours":12,"minutes":46,"seconds":8,"utc":true},"type":"temporal"},"x2":{"datum":{"year":2024,"month":2,"date":22,"hours":13,"minutes":58,"seconds":37,"utc":true}},"y":{"datum":0.523,"type":"quantitative"},"y2":{"datum":0.265}}},
{"data":{"values":[{}]},"mark":{"type":"text","align":"center","baseline":"middle","font":"Inter","fontSize":23,"color":"#FBC02D","text":"ADAUSDT.P"},
 "encoding":{"x":{"datum":{"year":2024,"month":2,"date":22,"hours":11,"minutes":55,"seconds":48,"utc":true},"type":"temporal"},"y":{"datum":0.394,"type":"quantitative"}}},
{"data":{"values":[{}]},"mark":{"type":"text","align":"center","baseline":"middle","font":"Inter","fontSize":23,"color":"#FBC02D","text":"+0.37%"},
 "encoding":{"x":{"datum":{"year":2024,"month":2,"date":22,"hours":13,"minutes":22,"seconds":19,"utc":true},"type":"temporal"},"y":{"datum":0.394,"type":"quantitative"}}},
{"data":{"values":[{}]},"mark":{"type":"rect","fill":"#2962FF","stroke":"#2962FF","strokeWidth":2,"cornerRadius":3},
 "encoding":{"x":{"datum":{"year":2024,"month":2,"date":22,"hours":11,"minutes":31,"seconds":5,"utc":true},"type":"temporal"},"x2":{"datum":{"year":2024,"month":2,"date":22,"hours":12,"minutes":43,"seconds":37,"utc":true}},"y":{"datum":0.249,"type":"quantitative"},"y2":{"datum":-0.008}}},
{"data":{"values":[{}]},"mark":{"type":"rect","fill":"#2962FF","stroke":"#2962FF","strokeWidth":2,"cornerRadius":3},
 "encoding":{"x":{"datum":{"year":2024,"month":2,"date":22,"hours":12,"minutes":46,"seconds":8,"utc":true},"type":"temporal"},"x2":{"datum":{"year":2024,"month":2,"date":22,"hours":13,"minutes":58,"seconds":37,"utc":true}},"y":{"datum":0.249,"type":"quantitative"},"y2":{"datum":-0.241}}},
{"data":{"values":[{}]},"mark":{"type":"text","align":"center","baseline":"middle","font":"Inter","fontSize":23,"color":"white","text":"BTCUSD"},
 "encoding":{"x":{"datum":{"year":2024,"month":2,"date":22,"hours":12,"minutes":7,"seconds":22,"utc":true},"type":"temporal"},"y":{"datum":0.12,"type":"quantitative"}}},
{"data":{"values":[{}]},"mark":{"type":"text","align":"center","baseline":"middle","font":"Inter","fontSize":23,"color":"white","text":"+0.12%"},
 "encoding":{"x":{"datum":{"year":2024,"month":2,"date":22,"hours":13,"minutes":22,"seconds":19,"utc":true},"type":"temporal"},"y":{"datum":0.12,"type":"quantitative"}}},
{"data":{"values":[{}]},"mark":{"type":"text","align":"center","baseline":"middle","font":"Inter","fontSize":23,"color":"#C3D1FF","text":"00:50"},
 "encoding":{"x":{"datum":{"year":2024,"month":2,"date":22,"hours":13,"minutes":15,"seconds":0,"utc":true},"type":"temporal"},"y":{"datum":-0.105,"type":"quantitative"}}},
{"data":{"values":[{}]},"mark":{"type":"rect","fill":"white","stroke":"#2962FF","strokeWidth":2,"cornerRadius":3},
 "encoding":{"x":{"datum":{"year":2024,"month":2,"date":22,"hours":12,"minutes":46,"seconds":8,"utc":true},"type":"temporal"},"x2":{"datum":{"year":2024,"month":2,"date":22,"hours":13,"minutes":58,"seconds":37,"utc":true}},"y":{"datum":-0.249,"type":"quantitative"},"y2":{"datum":-0.506}}},
{"data":{"values":[{}]},"mark":{"type":"text","align":"center","baseline":"middle","font":"Inter","fontSize":23,"color":"#2962FF","text":"−0.21%"},
 "encoding":{"x":{"datum":{"year":2024,"month":2,"date":22,"hours":13,"minutes":22,"seconds":19,"utc":true},"type":"temporal"},"y":{"datum":-0.378,"type":"quantitative"}}},
{"data":{"values":[{}]},"mark":{"type":"text","align":"left","baseline":"middle","font":"DejaVu Sans","fontWeight":"bold","fontSize":28,"color":"#131722","text":"T•/"},
 "encoding":{"x":{"datum":{"year":2024,"month":2,"date":21,"hours":9,"minutes":21,"seconds":47,"utc":true},"type":"temporal"},"y":{"datum":-6.125,"type":"quantitative"}}},
{"data":{"values":[{}]},"mark":{"type":"text","align":"left","baseline":"middle","font":"Inter","fontWeight":500,"fontSize":25,"color":"#131722","text":"TradingView"},
 "encoding":{"x":{"datum":{"year":2024,"month":2,"date":21,"hours":9,"minutes":52,"seconds":41,"utc":true},"type":"temporal"},"y":{"datum":-6.141,"type":"quantitative"}}}
]
}
